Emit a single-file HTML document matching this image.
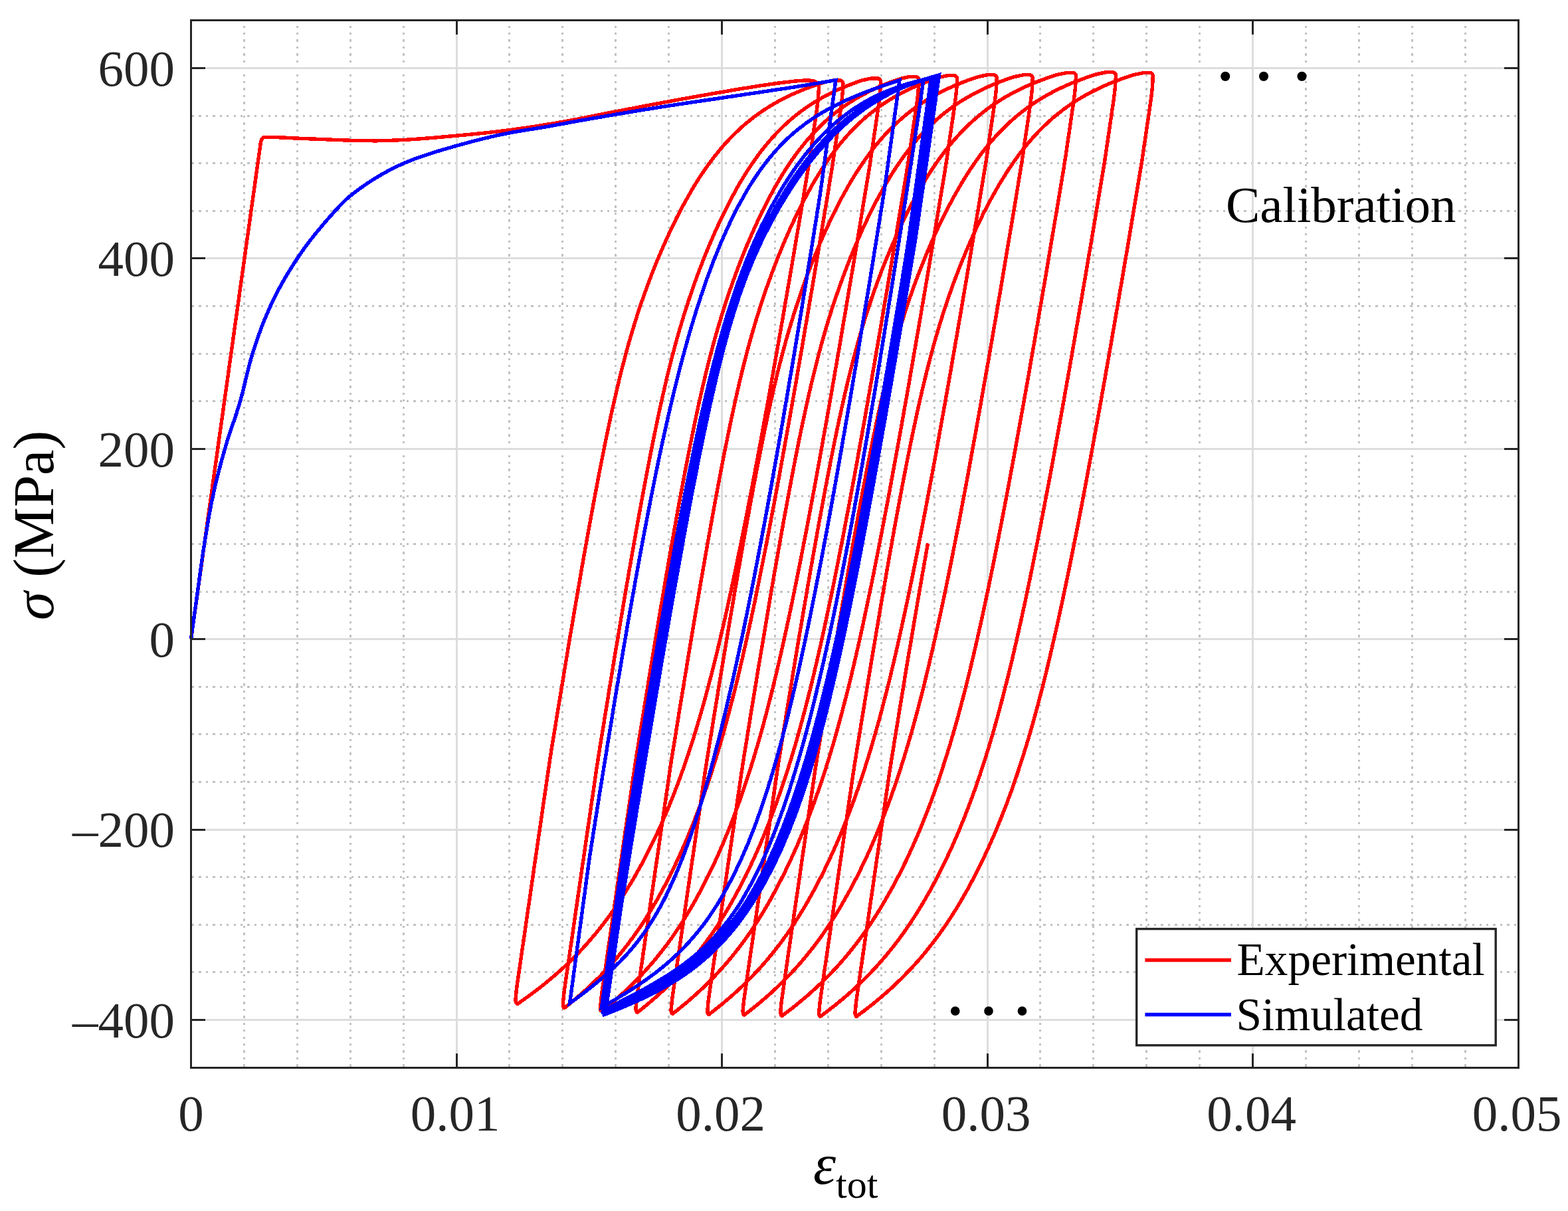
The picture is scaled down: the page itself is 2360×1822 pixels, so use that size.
<!DOCTYPE html>
<html lang="en">
<head>
<meta charset="utf-8">
<title>Calibration: Experimental vs Simulated stress-strain</title>
<style>
html,body{margin:0;padding:0;background:#fff;}
body{width:2360px;height:1822px;overflow:hidden;}
svg{display:block;}
text{font-family:"Liberation Serif","Times New Roman",serif;}
.tick{font-size:77px;fill:#262626;}
.lab{font-size:86.5px;fill:#000;}
.leg{font-size:69.3px;fill:#000;}
.ann{font-size:77px;fill:#000;}
</style>
</head>
<body>
<svg xmlns="http://www.w3.org/2000/svg" width="2360" height="1822" viewBox="0 0 2360 1822">
<rect x="0" y="0" width="2360" height="1822" fill="#ffffff"/>

<g stroke="#c2c2c2" stroke-width="3" stroke-dasharray="3.33 7.0867" fill="none" shape-rendering="crispEdges">
<line x1="367.4" y1="1604.5" x2="367.4" y2="32.0"/>
<line x1="447.3" y1="1604.5" x2="447.3" y2="32.0"/>
<line x1="527.2" y1="1604.5" x2="527.2" y2="32.0"/>
<line x1="607.1" y1="1604.5" x2="607.1" y2="32.0"/>
<line x1="766.9" y1="1604.5" x2="766.9" y2="32.0"/>
<line x1="846.8" y1="1604.5" x2="846.8" y2="32.0"/>
<line x1="926.7" y1="1604.5" x2="926.7" y2="32.0"/>
<line x1="1006.6" y1="1604.5" x2="1006.6" y2="32.0"/>
<line x1="1166.4" y1="1604.5" x2="1166.4" y2="32.0"/>
<line x1="1246.3" y1="1604.5" x2="1246.3" y2="32.0"/>
<line x1="1326.2" y1="1604.5" x2="1326.2" y2="32.0"/>
<line x1="1406.1" y1="1604.5" x2="1406.1" y2="32.0"/>
<line x1="1565.9" y1="1604.5" x2="1565.9" y2="32.0"/>
<line x1="1645.8" y1="1604.5" x2="1645.8" y2="32.0"/>
<line x1="1725.7" y1="1604.5" x2="1725.7" y2="32.0"/>
<line x1="1805.6" y1="1604.5" x2="1805.6" y2="32.0"/>
<line x1="1965.4" y1="1604.5" x2="1965.4" y2="32.0"/>
<line x1="2045.3" y1="1604.5" x2="2045.3" y2="32.0"/>
<line x1="2125.2" y1="1604.5" x2="2125.2" y2="32.0"/>
<line x1="2205.1" y1="1604.5" x2="2205.1" y2="32.0"/>
<line x1="289.0" y1="1462.9" x2="2283.5" y2="1462.9"/>
<line x1="289.0" y1="1391.3" x2="2283.5" y2="1391.3"/>
<line x1="289.0" y1="1319.7" x2="2283.5" y2="1319.7"/>
<line x1="289.0" y1="1176.5" x2="2283.5" y2="1176.5"/>
<line x1="289.0" y1="1104.9" x2="2283.5" y2="1104.9"/>
<line x1="289.0" y1="1033.3" x2="2283.5" y2="1033.3"/>
<line x1="289.0" y1="890.1" x2="2283.5" y2="890.1"/>
<line x1="289.0" y1="818.5" x2="2283.5" y2="818.5"/>
<line x1="289.0" y1="746.9" x2="2283.5" y2="746.9"/>
<line x1="289.0" y1="603.7" x2="2283.5" y2="603.7"/>
<line x1="289.0" y1="532.1" x2="2283.5" y2="532.1"/>
<line x1="289.0" y1="460.5" x2="2283.5" y2="460.5"/>
<line x1="289.0" y1="317.3" x2="2283.5" y2="317.3"/>
<line x1="289.0" y1="245.7" x2="2283.5" y2="245.7"/>
<line x1="289.0" y1="174.1" x2="2283.5" y2="174.1"/>
</g>
<g stroke="#dddddd" stroke-width="3" fill="none" shape-rendering="crispEdges">
<line x1="687.0" y1="1606.5" x2="687.0" y2="30.5"/>
<line x1="1086.5" y1="1606.5" x2="1086.5" y2="30.5"/>
<line x1="1486.0" y1="1606.5" x2="1486.0" y2="30.5"/>
<line x1="1885.5" y1="1606.5" x2="1885.5" y2="30.5"/>
<line x1="287.5" y1="1534.5" x2="2285.0" y2="1534.5"/>
<line x1="287.5" y1="1248.1" x2="2285.0" y2="1248.1"/>
<line x1="287.5" y1="961.7" x2="2285.0" y2="961.7"/>
<line x1="287.5" y1="675.3" x2="2285.0" y2="675.3"/>
<line x1="287.5" y1="388.9" x2="2285.0" y2="388.9"/>
<line x1="287.5" y1="102.5" x2="2285.0" y2="102.5"/>
</g>
<g shape-rendering="crispEdges">
<path d="M287.5,961.7 L392.3,215.0 L393.6,210.0 L394.4,208.8 L395.2,207.7 L396.1,207.0 L396.9,206.7 L397.7,206.6 L398.5,206.5 L399.3,206.4 L400.2,206.4 L401.0,206.3 L401.8,206.3 L402.6,206.3 L403.4,206.3 L404.3,206.3 L405.1,206.3 L405.9,206.3 L406.7,206.4 L407.5,206.4 L408.4,206.4 L409.2,206.4 L410.0,206.4 L416.6,206.7 L423.2,206.9 L429.8,207.2 L436.3,207.5 L442.9,207.9 L449.5,208.2 L456.1,208.5 L462.7,208.7 L469.2,209.0 L475.8,209.2 L482.4,209.5 L489.0,209.7 L495.6,210.0 L502.2,210.3 L508.8,210.6 L515.3,210.8 L521.9,211.1 L528.5,211.3 L535.1,211.4 L541.7,211.6 L548.2,211.7 L554.8,211.8 L561.4,211.8 L568.0,211.8 L574.6,211.6 L581.2,211.5 L587.8,211.3 L594.3,211.0 L600.9,210.8 L607.5,210.4 L614.1,210.1 L620.7,209.6 L627.2,209.2 L633.8,208.7 L640.4,208.2 L647.0,207.7 L653.6,207.2 L660.2,206.6 L666.8,206.0 L673.3,205.4 L679.9,204.8 L686.5,204.2 L693.1,203.6 L699.7,203.0 L706.2,202.4 L712.8,201.7 L719.4,201.1 L726.0,200.4 L732.6,199.7 L739.2,199.0 L745.8,198.2 L752.3,197.4 L758.9,196.6 L765.5,195.8 L772.1,194.9 L778.7,194.0 L785.2,193.1 L791.8,192.2 L798.4,191.2 L805.0,190.2 L811.6,189.1 L818.2,188.1 L824.8,187.0 L831.3,186.0 L837.9,184.9 L844.5,183.7 L851.1,182.6 L857.7,181.4 L864.2,180.1 L870.8,178.9 L877.4,177.6 L884.0,176.3 L890.6,174.9 L897.2,173.6 L903.8,172.3 L910.3,171.0 L916.9,169.7 L923.5,168.4 L930.1,167.2 L936.7,165.9 L943.2,164.7 L949.8,163.4 L956.4,162.1 L963.0,160.9 L969.6,159.6 L976.2,158.4 L982.8,157.1 L989.3,155.9 L995.9,154.7 L1002.5,153.5 L1009.1,152.2 L1015.7,151.0 L1022.2,149.8 L1028.8,148.6 L1035.4,147.5 L1042.0,146.3 L1048.6,145.1 L1055.2,143.9 L1061.8,142.8 L1068.3,141.6 L1074.9,140.5 L1081.5,139.3 L1088.1,138.2 L1094.7,137.1 L1101.2,135.9 L1107.8,134.8 L1114.4,133.7 L1121.0,132.7 L1127.6,131.6 L1134.2,130.6 L1140.8,129.5 L1147.3,128.5 L1153.9,127.6 L1160.5,126.6 L1167.1,125.7 L1173.7,124.8 L1180.2,124.0 L1186.8,123.2 L1193.4,122.4 L1200.0,121.8 L1200.8,121.7 L1201.7,121.6 L1202.5,121.6 L1203.3,121.5 L1204.2,121.5 L1205.0,121.4 L1205.9,121.3 L1206.7,121.3 L1207.5,121.2 L1208.4,121.2 L1209.2,121.1 L1210.0,121.1 L1210.9,121.0 L1211.7,121.0 L1212.5,120.9 L1213.4,120.9 L1214.2,120.9 L1215.0,120.9 L1215.9,120.9 L1216.7,120.9 L1217.6,121.0 L1218.4,121.0 L1219.2,121.1 L1220.1,121.2 L1220.9,121.3 L1221.7,121.4 L1222.6,121.5 L1223.4,121.7 L1224.2,121.9 L1225.1,122.2 L1225.9,122.6 L1226.7,123.0 L1227.6,123.4 L1228.4,123.9 L1229.3,124.5 L1230.1,125.3 L1230.9,126.3 L1231.8,127.8 L1232.6,130.0 L1232.3,134.1 L1232.1,138.3 L1231.8,142.4 L1231.5,146.6 L1231.1,150.7 L1230.7,154.8 L1230.1,159.0 L1229.6,163.1 L1229.0,167.3 L1228.4,171.4 L1227.8,175.5 L1227.2,179.7 L1226.6,183.8 L1226.0,188.0 L1225.4,192.1 L1224.8,196.3 L1224.2,200.4 L1223.6,204.5 L1223.0,208.7 L1222.4,212.8 L1221.8,217.0 L1221.2,221.1 L1220.6,225.2 L1220.0,229.4 L1219.3,233.5 L1218.7,237.7 L1218.1,241.8 L1217.5,245.9 L1216.9,250.1 L1216.3,254.2 L1215.6,258.4 L1214.9,262.5 L1214.2,266.6 L1213.5,270.8 L1212.8,274.9 L1212.1,279.1 L1211.4,283.2 L1210.7,287.4 L1210.1,291.5 L1209.4,295.6 L1205.8,316.6 L1202.3,337.6 L1198.7,358.6 L1195.1,379.6 L1191.6,400.5 L1188.0,421.5 L1184.3,442.5 L1180.7,463.5 L1177.1,484.5 L1173.4,505.4 L1169.7,526.4 L1166.0,547.4 L1162.2,568.4 L1158.5,589.4 L1154.7,610.3 L1150.8,631.3 L1147.0,652.3 L1143.1,673.3 L1139.2,694.3 L1135.2,715.2 L1131.2,736.2 L1127.1,757.2 L1123.0,778.2 L1118.9,799.2 L1114.6,820.1 L1110.3,841.1 L1106.0,862.1 L1101.5,883.1 L1096.9,904.1 L1092.3,925.1 L1087.5,946.0 L1082.6,967.0 L1077.5,988.0 L1072.3,1009.0 L1066.8,1030.0 L1061.2,1050.9 L1055.3,1071.9 L1049.1,1092.9 L1042.7,1113.9 L1035.9,1134.9 L1028.7,1155.8 L1021.1,1176.8 L1013.0,1197.8 L1004.5,1218.8 L995.4,1239.8 L985.7,1260.7 L975.4,1281.7 L964.4,1302.7 L952.5,1323.7 L939.7,1344.7 L937.0,1348.9 L934.3,1353.2 L931.5,1357.4 L928.6,1361.7 L925.7,1365.9 L922.7,1370.1 L919.7,1374.4 L916.6,1378.6 L913.5,1382.9 L910.3,1387.1 L907.0,1391.4 L903.7,1395.6 L900.3,1399.9 L896.9,1404.1 L893.3,1408.4 L889.7,1412.6 L886.0,1416.9 L882.3,1421.1 L878.4,1425.4 L874.5,1429.6 L870.5,1433.9 L866.3,1438.1 L862.1,1442.3 L857.8,1446.6 L853.4,1450.8 L848.9,1455.1 L844.2,1459.3 L839.5,1463.6 L834.6,1467.8 L829.6,1472.1 L824.5,1476.3 L819.3,1480.6 L814.0,1484.8 L808.5,1489.1 L802.9,1493.3 L797.1,1497.6 L791.2,1501.8 L785.2,1506.1 L779.1,1510.3 L778.5,1510.1 L777.9,1509.8 L777.4,1509.4 L777.0,1508.9 L776.6,1508.2 L776.4,1507.4 L776.2,1506.5 L776.0,1505.4 L776.0,1504.3 L776.0,1503.0 L776.1,1501.5 L776.3,1500.0 L776.7,1495.8 L777.1,1491.6 L777.6,1487.5 L778.1,1483.3 L778.7,1479.1 L779.3,1475.0 L779.9,1470.8 L780.5,1466.6 L781.1,1462.5 L781.7,1458.3 L782.3,1454.1 L782.9,1449.9 L783.5,1445.8 L784.1,1441.6 L784.7,1437.4 L785.3,1433.3 L785.9,1429.1 L786.5,1424.9 L787.2,1420.8 L787.8,1416.6 L788.4,1412.4 L789.0,1408.3 L789.6,1404.1 L790.2,1399.9 L790.8,1395.8 L791.4,1391.6 L792.0,1387.4 L792.6,1383.3 L793.2,1379.1 L793.8,1374.9 L794.4,1370.8 L795.0,1366.6 L795.7,1362.4 L796.3,1358.2 L796.9,1354.1 L797.5,1349.9 L798.1,1345.7 L798.7,1341.6 L801.8,1320.5 L804.8,1299.3 L807.9,1278.2 L811.0,1257.1 L814.1,1236.0 L817.1,1214.9 L820.2,1193.7 L823.3,1172.6 L826.4,1151.5 L829.6,1130.4 L833.1,1109.3 L836.5,1088.1 L840.0,1067.0 L843.4,1045.9 L846.9,1024.8 L850.4,1003.7 L853.9,982.6 L857.4,961.4 L861.0,940.3 L864.6,919.2 L868.2,898.1 L871.9,877.0 L875.5,855.8 L879.2,834.7 L883.0,813.6 L886.8,792.5 L890.7,771.4 L894.6,750.2 L898.6,729.1 L902.6,708.0 L906.8,686.9 L911.0,665.8 L915.4,644.7 L919.9,623.5 L924.7,602.4 L929.6,581.3 L934.7,560.2 L940.2,539.1 L945.9,517.9 L952.1,496.8 L958.6,475.7 L965.6,454.6 L973.1,433.5 L981.0,412.3 L989.5,391.2 L998.5,370.1 L1008.1,349.0 L1018.3,327.9 L1029.4,306.8 L1041.4,285.6 L1043.9,281.4 L1046.5,277.1 L1049.2,272.8 L1051.9,268.5 L1054.7,264.3 L1057.6,260.0 L1060.5,255.7 L1063.5,251.4 L1066.6,247.2 L1069.7,242.9 L1072.9,238.6 L1076.2,234.3 L1079.7,230.1 L1083.2,225.8 L1086.8,221.5 L1090.5,217.2 L1094.4,213.0 L1098.4,208.7 L1102.6,204.4 L1106.9,200.2 L1111.4,195.9 L1116.0,191.6 L1120.9,187.3 L1126.0,183.1 L1131.3,178.8 L1137.0,174.5 L1142.9,170.2 L1149.1,166.0 L1155.7,161.7 L1162.8,157.4 L1170.2,153.2 L1178.2,148.9 L1186.8,144.6 L1196.0,140.4 L1206.0,136.1 L1216.8,131.9 L1228.4,127.7 L1241.1,123.6 L1254.9,120.9 L1256.7,120.9 L1258.5,120.9 L1260.3,120.9 L1262.1,120.9 L1263.9,120.9 L1264.9,121.0 L1265.8,121.3 L1266.7,121.7 L1267.4,122.4 L1268.1,123.1 L1268.5,124.0 L1268.8,124.9 L1268.9,125.9 L1268.7,126.4 L1268.6,130.6 L1268.4,134.7 L1268.2,138.9 L1267.8,143.1 L1267.4,147.3 L1267.0,151.4 L1266.5,155.6 L1265.9,159.8 L1265.4,163.9 L1264.8,168.1 L1264.2,172.3 L1263.6,176.4 L1263.0,180.6 L1262.4,184.8 L1261.7,189.0 L1261.1,193.1 L1260.5,197.3 L1259.9,201.5 L1259.3,205.6 L1258.7,209.8 L1258.1,214.0 L1257.4,218.1 L1256.8,222.3 L1256.2,226.5 L1255.6,230.7 L1255.0,234.8 L1254.4,239.0 L1253.8,243.2 L1253.2,247.3 L1252.5,251.5 L1251.9,255.7 L1251.2,259.8 L1250.5,264.0 L1249.8,268.2 L1249.1,272.4 L1248.4,276.5 L1247.7,280.7 L1247.1,284.9 L1246.4,289.0 L1245.7,293.2 L1242.2,314.3 L1238.7,335.5 L1235.2,356.6 L1231.7,377.7 L1228.1,398.9 L1224.6,420.0 L1221.0,441.1 L1217.4,462.2 L1213.8,483.4 L1210.2,504.5 L1206.6,525.6 L1202.9,546.8 L1199.3,567.9 L1195.6,589.0 L1191.9,610.2 L1188.1,631.3 L1184.3,652.4 L1180.5,673.5 L1176.7,694.7 L1172.9,715.8 L1169.0,736.9 L1165.0,758.1 L1161.0,779.2 L1157.0,800.3 L1152.9,821.4 L1148.7,842.6 L1144.5,863.7 L1140.2,884.8 L1135.9,906.0 L1131.4,927.1 L1126.8,948.2 L1122.1,969.4 L1117.3,990.5 L1112.4,1011.6 L1107.3,1032.7 L1101.9,1053.9 L1096.4,1075.0 L1090.7,1096.1 L1084.7,1117.3 L1078.4,1138.4 L1071.7,1159.5 L1064.7,1180.7 L1057.4,1201.8 L1049.6,1222.9 L1041.3,1244.0 L1032.5,1265.2 L1023.2,1286.3 L1013.3,1307.4 L1002.7,1328.6 L991.2,1349.7 L988.8,1354.0 L986.3,1358.2 L983.8,1362.5 L981.2,1366.8 L978.7,1371.1 L976.0,1375.4 L973.3,1379.6 L970.6,1383.9 L967.8,1388.2 L965.0,1392.5 L962.1,1396.7 L959.1,1401.0 L956.1,1405.3 L953.1,1409.6 L949.9,1413.8 L946.7,1418.1 L943.5,1422.4 L940.1,1426.7 L936.7,1431.0 L933.3,1435.2 L929.7,1439.5 L926.1,1443.8 L922.4,1448.1 L918.5,1452.3 L914.7,1456.6 L910.7,1460.9 L906.6,1465.2 L902.4,1469.5 L898.1,1473.7 L893.8,1478.0 L889.3,1482.3 L884.7,1486.6 L880.0,1490.8 L875.2,1495.1 L870.3,1499.4 L865.3,1503.7 L860.1,1507.9 L854.9,1512.2 L849.5,1516.5 L849.0,1516.3 L848.6,1516.0 L848.2,1515.6 L847.9,1515.1 L847.7,1514.4 L847.5,1513.6 L847.4,1512.7 L847.3,1511.6 L847.3,1510.4 L847.4,1509.1 L847.5,1507.7 L847.7,1506.1 L848.1,1501.9 L848.5,1497.7 L849.0,1493.5 L849.5,1489.3 L850.1,1485.1 L850.7,1480.9 L851.3,1476.7 L851.9,1472.5 L852.5,1468.3 L853.1,1464.2 L853.7,1460.0 L854.4,1455.8 L855.0,1451.6 L855.6,1447.4 L856.2,1443.2 L856.8,1439.0 L857.4,1434.8 L858.0,1430.6 L858.6,1426.4 L859.2,1422.2 L859.9,1418.0 L860.5,1413.8 L861.1,1409.6 L861.7,1405.4 L862.3,1401.2 L862.9,1397.0 L863.5,1392.8 L864.1,1388.6 L864.7,1384.4 L865.4,1380.2 L866.0,1376.0 L866.6,1371.8 L867.2,1367.6 L867.8,1363.5 L868.4,1359.3 L869.0,1355.1 L869.6,1350.9 L870.2,1346.7 L873.3,1325.4 L876.4,1304.2 L879.5,1282.9 L882.6,1261.6 L885.7,1240.4 L888.8,1219.1 L891.9,1197.9 L895.0,1176.6 L898.1,1155.3 L901.4,1134.1 L904.8,1112.8 L908.3,1091.6 L911.7,1070.3 L915.2,1049.0 L918.6,1027.8 L922.1,1006.5 L925.6,985.3 L929.2,964.0 L932.7,942.8 L936.3,921.5 L939.9,900.2 L943.5,879.0 L947.2,857.7 L950.9,836.5 L954.6,815.2 L958.4,793.9 L962.2,772.7 L966.1,751.4 L970.1,730.2 L974.1,708.9 L978.2,687.7 L982.4,666.4 L986.8,645.1 L991.2,623.9 L995.9,602.6 L1000.7,581.4 L1005.7,560.1 L1011.1,538.8 L1016.7,517.6 L1022.7,496.3 L1029.1,475.1 L1035.9,453.8 L1043.1,432.5 L1050.8,411.3 L1058.9,390.0 L1067.6,368.8 L1076.8,347.5 L1086.7,326.3 L1097.3,305.0 L1108.8,283.7 L1111.2,279.4 L1113.7,275.1 L1116.3,270.8 L1118.9,266.5 L1121.6,262.2 L1124.3,257.9 L1127.1,253.6 L1130.0,249.3 L1132.9,245.0 L1135.9,240.7 L1139.0,236.4 L1142.1,232.1 L1145.4,227.8 L1148.7,223.5 L1152.2,219.2 L1155.8,214.9 L1159.4,210.6 L1163.3,206.3 L1167.2,202.0 L1171.3,197.7 L1175.6,193.4 L1180.0,189.1 L1184.6,184.8 L1189.5,180.5 L1194.6,176.2 L1199.9,171.9 L1205.5,167.6 L1211.4,163.3 L1217.7,159.0 L1224.3,154.7 L1231.4,150.4 L1239.0,146.1 L1247.1,141.8 L1255.9,137.5 L1265.3,133.2 L1275.4,129.0 L1286.5,124.7 L1298.5,120.6 L1311.5,117.9 L1313.3,117.9 L1315.1,117.9 L1316.9,117.9 L1318.7,117.9 L1320.5,117.9 L1321.5,118.0 L1322.4,118.3 L1323.3,118.7 L1324.0,119.4 L1324.7,120.1 L1325.1,121.0 L1325.4,121.9 L1325.5,122.9 L1325.3,123.4 L1325.2,127.6 L1325.0,131.8 L1324.8,136.0 L1324.4,140.2 L1324.0,144.4 L1323.6,148.6 L1323.1,152.8 L1322.5,157.0 L1321.9,161.1 L1321.3,165.3 L1320.7,169.5 L1320.1,173.7 L1319.5,177.9 L1318.9,182.1 L1318.3,186.3 L1317.7,190.5 L1317.1,194.7 L1316.4,198.9 L1315.8,203.1 L1315.2,207.3 L1314.6,211.5 L1314.0,215.7 L1313.4,219.9 L1312.7,224.1 L1312.1,228.3 L1311.5,232.5 L1310.9,236.6 L1310.3,240.8 L1309.7,245.0 L1309.0,249.2 L1308.4,253.4 L1307.7,257.6 L1307.0,261.8 L1306.3,266.0 L1305.6,270.2 L1304.9,274.4 L1304.2,278.6 L1303.5,282.8 L1302.8,287.0 L1302.1,291.2 L1298.6,312.4 L1295.1,333.7 L1291.6,354.9 L1288.0,376.2 L1284.5,397.4 L1280.9,418.7 L1277.3,439.9 L1273.7,461.2 L1270.1,482.4 L1266.5,503.7 L1262.9,524.9 L1259.2,546.2 L1255.5,567.4 L1251.8,588.7 L1248.1,609.9 L1244.3,631.2 L1240.5,652.4 L1236.7,673.7 L1232.9,694.9 L1229.0,716.2 L1225.1,737.4 L1221.1,758.7 L1217.1,779.9 L1213.1,801.2 L1208.9,822.4 L1204.8,843.7 L1200.5,865.0 L1196.2,886.2 L1191.9,907.5 L1187.4,928.7 L1182.8,950.0 L1178.1,971.2 L1173.3,992.5 L1168.3,1013.7 L1163.2,1035.0 L1157.8,1056.2 L1152.3,1077.5 L1146.6,1098.7 L1140.5,1120.0 L1134.2,1141.2 L1127.6,1162.5 L1120.6,1183.7 L1113.2,1205.0 L1105.4,1226.2 L1097.1,1247.5 L1088.4,1268.7 L1079.1,1290.0 L1069.1,1311.2 L1058.5,1332.5 L1047.0,1353.7 L1044.6,1358.0 L1042.1,1362.3 L1039.6,1366.6 L1037.1,1370.9 L1034.5,1375.2 L1031.9,1379.5 L1029.2,1383.8 L1026.4,1388.1 L1023.7,1392.4 L1020.8,1396.7 L1017.9,1401.0 L1015.0,1405.4 L1012.0,1409.7 L1008.9,1414.0 L1005.8,1418.3 L1002.6,1422.6 L999.3,1426.9 L996.0,1431.2 L992.6,1435.5 L989.1,1439.8 L985.6,1444.1 L982.0,1448.4 L978.2,1452.7 L974.4,1457.0 L970.6,1461.3 L966.6,1465.6 L962.5,1469.9 L958.3,1474.2 L954.1,1478.5 L949.7,1482.8 L945.2,1487.1 L940.7,1491.4 L936.0,1495.7 L931.2,1500.0 L926.3,1504.3 L921.2,1508.6 L916.1,1512.9 L910.9,1517.2 L905.5,1521.5 L905.1,1521.3 L904.7,1521.0 L904.4,1520.6 L904.1,1520.1 L903.9,1519.4 L903.7,1518.6 L903.6,1517.7 L903.6,1516.6 L903.6,1515.4 L903.7,1514.1 L903.8,1512.6 L904.0,1511.1 L904.4,1506.8 L904.8,1502.6 L905.3,1498.4 L905.9,1494.2 L906.4,1490.0 L907.0,1485.8 L907.6,1481.5 L908.3,1477.3 L908.9,1473.1 L909.5,1468.9 L910.1,1464.7 L910.7,1460.4 L911.3,1456.2 L911.9,1452.0 L912.5,1447.8 L913.2,1443.6 L913.8,1439.4 L914.4,1435.1 L915.0,1430.9 L915.6,1426.7 L916.2,1422.5 L916.8,1418.3 L917.5,1414.0 L918.1,1409.8 L918.7,1405.6 L919.3,1401.4 L919.9,1397.2 L920.5,1393.0 L921.1,1388.7 L921.8,1384.5 L922.4,1380.3 L923.0,1376.1 L923.6,1371.9 L924.2,1367.6 L924.8,1363.4 L925.4,1359.2 L926.1,1355.0 L926.7,1350.8 L929.8,1329.4 L932.9,1308.0 L936.0,1286.7 L939.1,1265.3 L942.2,1243.9 L945.4,1222.5 L948.5,1201.2 L951.6,1179.8 L954.7,1158.4 L958.0,1137.0 L961.4,1115.7 L964.9,1094.3 L968.4,1072.9 L971.8,1051.6 L975.3,1030.2 L978.8,1008.8 L982.4,987.4 L985.9,966.1 L989.5,944.7 L993.1,923.3 L996.7,901.9 L1000.3,880.6 L1004.0,859.2 L1007.7,837.8 L1011.5,816.5 L1015.3,795.1 L1019.1,773.7 L1023.0,752.3 L1027.0,731.0 L1031.0,709.6 L1035.2,688.2 L1039.4,666.8 L1043.8,645.5 L1048.2,624.1 L1052.9,602.7 L1057.7,581.4 L1062.8,560.0 L1068.1,538.6 L1073.8,517.2 L1079.8,495.9 L1086.2,474.5 L1093.0,453.1 L1100.3,431.7 L1108.0,410.4 L1116.1,389.0 L1124.8,367.6 L1134.1,346.3 L1143.9,324.9 L1154.6,303.5 L1166.1,282.1 L1168.5,277.8 L1171.1,273.5 L1173.6,269.2 L1176.2,264.8 L1178.9,260.5 L1181.6,256.2 L1184.4,251.9 L1187.3,247.5 L1190.2,243.2 L1193.2,238.9 L1196.3,234.6 L1199.5,230.2 L1202.7,225.9 L1206.1,221.6 L1209.6,217.3 L1213.1,212.9 L1216.8,208.6 L1220.6,204.3 L1224.6,200.0 L1228.7,195.6 L1233.0,191.3 L1237.4,187.0 L1242.0,182.7 L1246.9,178.3 L1252.0,174.0 L1257.3,169.7 L1262.9,165.4 L1268.8,161.0 L1275.1,156.7 L1281.8,152.4 L1288.9,148.1 L1296.5,143.8 L1304.6,139.4 L1313.3,135.1 L1322.7,130.8 L1332.9,126.5 L1344.0,122.3 L1356.0,118.2 L1369.0,115.4 L1370.8,115.4 L1372.6,115.4 L1374.4,115.4 L1376.2,115.4 L1378.0,115.4 L1379.0,115.5 L1379.9,115.8 L1380.8,116.2 L1381.5,116.9 L1382.2,117.6 L1382.6,118.5 L1382.9,119.4 L1383.0,120.4 L1382.8,120.9 L1382.7,125.1 L1382.5,129.3 L1382.3,133.5 L1381.9,137.7 L1381.5,141.9 L1381.1,146.1 L1380.5,150.3 L1380.0,154.6 L1379.4,158.8 L1378.8,163.0 L1378.2,167.2 L1377.6,171.4 L1377.0,175.6 L1376.4,179.8 L1375.8,184.0 L1375.1,188.2 L1374.5,192.4 L1373.9,196.6 L1373.3,200.8 L1372.7,205.0 L1372.0,209.2 L1371.4,213.5 L1370.8,217.7 L1370.2,221.9 L1369.6,226.1 L1369.0,230.3 L1368.3,234.5 L1367.7,238.7 L1367.1,242.9 L1366.5,247.1 L1365.8,251.3 L1365.1,255.5 L1364.4,259.7 L1363.7,263.9 L1363.0,268.1 L1362.3,272.3 L1361.6,276.6 L1360.9,280.8 L1360.3,285.0 L1359.6,289.2 L1356.0,310.5 L1352.5,331.8 L1349.0,353.1 L1345.4,374.4 L1341.8,395.8 L1338.3,417.1 L1334.7,438.4 L1331.0,459.7 L1327.4,481.0 L1323.8,502.3 L1320.1,523.6 L1316.4,545.0 L1312.7,566.3 L1309.0,587.6 L1305.2,608.9 L1301.5,630.2 L1297.7,651.5 L1293.8,672.8 L1290.0,694.2 L1286.1,715.5 L1282.1,736.8 L1278.2,758.1 L1274.1,779.4 L1270.1,800.7 L1265.9,822.0 L1261.7,843.4 L1257.5,864.7 L1253.2,886.0 L1248.7,907.3 L1244.2,928.6 L1239.6,949.9 L1234.9,971.3 L1230.0,992.6 L1225.0,1013.9 L1219.9,1035.2 L1214.5,1056.5 L1208.9,1077.8 L1203.1,1099.1 L1197.1,1120.5 L1190.7,1141.8 L1184.0,1163.1 L1176.9,1184.4 L1169.5,1205.7 L1161.6,1227.0 L1153.3,1248.3 L1144.4,1269.7 L1135.0,1291.0 L1125.0,1312.3 L1114.2,1333.6 L1102.7,1354.9 L1100.2,1359.2 L1097.7,1363.6 L1095.2,1367.9 L1092.6,1372.2 L1090.0,1376.5 L1087.3,1380.8 L1084.6,1385.1 L1081.8,1389.4 L1079.0,1393.8 L1076.2,1398.1 L1073.2,1402.4 L1070.3,1406.7 L1067.2,1411.0 L1064.1,1415.3 L1061.0,1419.6 L1057.7,1424.0 L1054.4,1428.3 L1051.1,1432.6 L1047.6,1436.9 L1044.1,1441.2 L1040.5,1445.5 L1036.9,1449.8 L1033.1,1454.2 L1029.3,1458.5 L1025.3,1462.8 L1021.3,1467.1 L1017.2,1471.4 L1013.0,1475.7 L1008.7,1480.1 L1004.2,1484.4 L999.7,1488.7 L995.1,1493.0 L990.3,1497.3 L985.5,1501.6 L980.5,1505.9 L975.4,1510.3 L970.2,1514.6 L964.9,1518.9 L959.5,1523.2 L959.0,1523.0 L958.5,1522.7 L958.1,1522.3 L957.8,1521.8 L957.5,1521.1 L957.3,1520.3 L957.1,1519.4 L957.1,1518.3 L957.0,1517.1 L957.1,1515.8 L957.2,1514.3 L957.4,1512.7 L957.8,1508.5 L958.2,1504.3 L958.7,1500.1 L959.3,1495.8 L959.9,1491.6 L960.5,1487.4 L961.1,1483.1 L961.7,1478.9 L962.3,1474.7 L962.9,1470.5 L963.5,1466.2 L964.1,1462.0 L964.7,1457.8 L965.4,1453.5 L966.0,1449.3 L966.6,1445.1 L967.2,1440.9 L967.8,1436.6 L968.4,1432.4 L969.1,1428.2 L969.7,1423.9 L970.3,1419.7 L970.9,1415.5 L971.5,1411.3 L972.1,1407.0 L972.7,1402.8 L973.4,1398.6 L974.0,1394.3 L974.6,1390.1 L975.2,1385.9 L975.8,1381.7 L976.4,1377.4 L977.1,1373.2 L977.7,1369.0 L978.3,1364.7 L978.9,1360.5 L979.5,1356.3 L980.1,1352.0 L983.3,1330.6 L986.4,1309.2 L989.5,1287.8 L992.6,1266.3 L995.7,1244.9 L998.9,1223.5 L1002.0,1202.1 L1005.1,1180.6 L1008.2,1159.2 L1011.5,1137.8 L1015.0,1116.4 L1018.5,1094.9 L1021.9,1073.5 L1025.4,1052.1 L1028.9,1030.7 L1032.5,1009.2 L1036.0,987.8 L1039.6,966.4 L1043.1,945.0 L1046.7,923.5 L1050.4,902.1 L1054.0,880.7 L1057.7,859.3 L1061.5,837.8 L1065.2,816.4 L1069.1,795.0 L1072.9,773.6 L1076.8,752.1 L1080.8,730.7 L1084.9,709.3 L1089.0,687.8 L1093.3,666.4 L1097.7,645.0 L1102.2,623.6 L1106.9,602.1 L1111.7,580.7 L1116.8,559.3 L1122.2,537.9 L1127.9,516.4 L1134.0,495.0 L1140.4,473.6 L1147.3,452.2 L1154.6,430.7 L1162.4,409.3 L1170.6,387.9 L1179.4,366.5 L1188.7,345.0 L1198.7,323.6 L1209.5,302.2 L1221.1,280.8 L1223.6,276.4 L1226.1,272.1 L1228.7,267.8 L1231.4,263.4 L1234.1,259.1 L1236.8,254.7 L1239.7,250.4 L1242.6,246.1 L1245.5,241.7 L1248.6,237.4 L1251.7,233.1 L1254.9,228.7 L1258.2,224.4 L1261.6,220.0 L1265.1,215.7 L1268.7,211.4 L1272.4,207.0 L1276.3,202.7 L1280.3,198.4 L1284.4,194.0 L1288.8,189.7 L1293.3,185.4 L1298.0,181.0 L1302.9,176.7 L1308.0,172.4 L1313.4,168.0 L1319.1,163.7 L1325.1,159.4 L1331.5,155.0 L1338.2,150.7 L1345.4,146.4 L1353.1,142.0 L1361.3,137.7 L1370.2,133.4 L1379.7,129.1 L1390.0,124.8 L1401.2,120.5 L1413.4,116.4 L1426.6,113.6 L1428.4,113.6 L1430.2,113.6 L1432.0,113.6 L1433.8,113.6 L1435.6,113.6 L1436.6,113.7 L1437.5,114.0 L1438.4,114.4 L1439.1,115.1 L1439.8,115.8 L1440.2,116.7 L1440.5,117.6 L1440.6,118.6 L1440.4,119.1 L1440.3,123.3 L1440.1,127.5 L1439.9,131.8 L1439.5,136.0 L1439.1,140.2 L1438.7,144.4 L1438.1,148.6 L1437.6,152.8 L1437.0,157.1 L1436.4,161.3 L1435.8,165.5 L1435.2,169.7 L1434.6,173.9 L1434.0,178.2 L1433.3,182.4 L1432.7,186.6 L1432.1,190.8 L1431.5,195.0 L1430.9,199.2 L1430.2,203.5 L1429.6,207.7 L1429.0,211.9 L1428.4,216.1 L1427.8,220.3 L1427.1,224.6 L1426.5,228.8 L1425.9,233.0 L1425.3,237.2 L1424.7,241.4 L1424.0,245.6 L1423.3,249.9 L1422.6,254.1 L1422.0,258.3 L1421.3,262.5 L1420.6,266.7 L1419.9,271.0 L1419.2,275.2 L1418.5,279.4 L1417.8,283.6 L1417.1,287.8 L1413.5,309.2 L1410.0,330.6 L1406.4,352.0 L1402.9,373.3 L1399.3,394.7 L1395.7,416.1 L1392.1,437.4 L1388.4,458.8 L1384.8,480.2 L1381.1,501.6 L1377.4,522.9 L1373.7,544.3 L1370.0,565.7 L1366.3,587.1 L1362.5,608.4 L1358.7,629.8 L1354.9,651.2 L1351.0,672.5 L1347.1,693.9 L1343.2,715.3 L1339.3,736.7 L1335.3,758.0 L1331.2,779.4 L1327.1,800.8 L1323.0,822.2 L1318.7,843.5 L1314.5,864.9 L1310.1,886.3 L1305.6,907.6 L1301.1,929.0 L1296.5,950.4 L1291.7,971.8 L1286.8,993.1 L1281.8,1014.5 L1276.5,1035.9 L1271.1,1057.2 L1265.5,1078.6 L1259.6,1100.0 L1253.5,1121.4 L1247.1,1142.7 L1240.3,1164.1 L1233.2,1185.5 L1225.6,1206.9 L1217.7,1228.2 L1209.2,1249.6 L1200.3,1271.0 L1190.7,1292.3 L1180.5,1313.7 L1169.6,1335.1 L1157.9,1356.5 L1155.4,1360.8 L1152.9,1365.1 L1150.3,1369.4 L1147.7,1373.8 L1145.1,1378.1 L1142.3,1382.4 L1139.6,1386.8 L1136.8,1391.1 L1133.9,1395.4 L1131.0,1399.7 L1128.1,1404.1 L1125.0,1408.4 L1122.0,1412.7 L1118.8,1417.0 L1115.6,1421.4 L1112.3,1425.7 L1109.0,1430.0 L1105.6,1434.3 L1102.1,1438.7 L1098.5,1443.0 L1094.9,1447.3 L1091.1,1451.7 L1087.3,1456.0 L1083.4,1460.3 L1079.4,1464.6 L1075.3,1469.0 L1071.1,1473.3 L1066.8,1477.6 L1062.5,1481.9 L1058.0,1486.3 L1053.4,1490.6 L1048.7,1494.9 L1043.8,1499.2 L1038.9,1503.6 L1033.9,1507.9 L1028.7,1512.2 L1023.4,1516.5 L1018.0,1520.9 L1012.5,1525.2 L1012.0,1525.0 L1011.5,1524.7 L1011.1,1524.3 L1010.8,1523.8 L1010.6,1523.1 L1010.4,1522.3 L1010.2,1521.3 L1010.1,1520.3 L1010.1,1519.1 L1010.2,1517.8 L1010.3,1516.3 L1010.5,1514.7 L1010.9,1510.5 L1011.3,1506.3 L1011.8,1502.0 L1012.4,1497.8 L1013.0,1493.5 L1013.6,1489.3 L1014.2,1485.1 L1014.8,1480.8 L1015.4,1476.6 L1016.0,1472.3 L1016.6,1468.1 L1017.2,1463.9 L1017.9,1459.6 L1018.5,1455.4 L1019.1,1451.2 L1019.7,1446.9 L1020.3,1442.7 L1020.9,1438.4 L1021.6,1434.2 L1022.2,1430.0 L1022.8,1425.7 L1023.4,1421.5 L1024.0,1417.3 L1024.6,1413.0 L1025.3,1408.8 L1025.9,1404.5 L1026.5,1400.3 L1027.1,1396.1 L1027.7,1391.8 L1028.4,1387.6 L1029.0,1383.4 L1029.6,1379.1 L1030.2,1374.9 L1030.8,1370.6 L1031.4,1366.4 L1032.1,1362.2 L1032.7,1357.9 L1033.3,1353.7 L1036.4,1332.2 L1039.5,1310.7 L1042.7,1289.3 L1045.8,1267.8 L1048.9,1246.3 L1052.1,1224.9 L1055.2,1203.4 L1058.3,1181.9 L1061.4,1160.4 L1064.8,1139.0 L1068.2,1117.5 L1071.7,1096.0 L1075.2,1074.6 L1078.7,1053.1 L1082.2,1031.6 L1085.8,1010.1 L1089.3,988.7 L1092.9,967.2 L1096.5,945.7 L1100.1,924.3 L1103.8,902.8 L1107.5,881.3 L1111.2,859.8 L1114.9,838.4 L1118.7,816.9 L1122.6,795.4 L1126.5,774.0 L1130.4,752.5 L1134.4,731.0 L1138.5,709.5 L1142.7,688.1 L1147.0,666.6 L1151.4,645.1 L1155.9,623.7 L1160.7,602.2 L1165.6,580.7 L1170.7,559.2 L1176.2,537.8 L1181.9,516.3 L1188.1,494.8 L1194.6,473.4 L1201.6,451.9 L1209.0,430.4 L1216.9,408.9 L1225.3,387.5 L1234.2,366.0 L1243.7,344.5 L1253.8,323.1 L1264.7,301.6 L1276.6,280.1 L1279.1,275.8 L1281.7,271.4 L1284.4,267.1 L1287.0,262.7 L1289.8,258.4 L1292.6,254.0 L1295.5,249.7 L1298.4,245.4 L1301.5,241.0 L1304.6,236.7 L1307.7,232.3 L1311.0,228.0 L1314.4,223.6 L1317.8,219.3 L1321.4,214.9 L1325.1,210.6 L1328.9,206.2 L1332.8,201.9 L1336.9,197.6 L1341.2,193.2 L1345.6,188.9 L1350.2,184.5 L1354.9,180.2 L1360.0,175.8 L1365.2,171.5 L1370.7,167.1 L1376.5,162.8 L1382.7,158.5 L1389.2,154.1 L1396.1,149.8 L1403.4,145.4 L1411.2,141.1 L1419.7,136.8 L1428.7,132.4 L1438.5,128.1 L1449.0,123.8 L1460.5,119.5 L1472.9,115.4 L1486.4,112.6 L1488.2,112.6 L1490.0,112.6 L1491.8,112.6 L1493.6,112.6 L1495.4,112.6 L1496.4,112.7 L1497.3,113.0 L1498.2,113.4 L1498.9,114.1 L1499.6,114.8 L1500.0,115.7 L1500.3,116.6 L1500.4,117.6 L1500.2,118.1 L1500.1,122.3 L1499.9,126.5 L1499.7,130.8 L1499.3,135.0 L1498.9,139.2 L1498.5,143.4 L1497.9,147.7 L1497.4,151.9 L1496.8,156.1 L1496.2,160.3 L1495.6,164.6 L1495.0,168.8 L1494.4,173.0 L1493.7,177.2 L1493.1,181.5 L1492.5,185.7 L1491.9,189.9 L1491.3,194.1 L1490.6,198.4 L1490.0,202.6 L1489.4,206.8 L1488.8,211.0 L1488.2,215.3 L1487.5,219.5 L1486.9,223.7 L1486.3,227.9 L1485.7,232.2 L1485.0,236.4 L1484.4,240.6 L1483.8,244.8 L1483.1,249.1 L1482.4,253.3 L1481.7,257.5 L1481.0,261.7 L1480.3,266.0 L1479.6,270.2 L1478.9,274.4 L1478.2,278.6 L1477.5,282.9 L1476.8,287.1 L1473.3,308.5 L1469.7,329.9 L1466.1,351.3 L1462.5,372.7 L1458.9,394.1 L1455.3,415.5 L1451.7,436.9 L1448.1,458.3 L1444.4,479.8 L1440.7,501.2 L1437.0,522.6 L1433.3,544.0 L1429.6,565.4 L1425.8,586.8 L1422.0,608.2 L1418.2,629.6 L1414.3,651.0 L1410.5,672.4 L1406.6,693.8 L1402.6,715.2 L1398.6,736.6 L1394.6,758.0 L1390.5,779.4 L1386.4,800.8 L1382.2,822.3 L1378.0,843.7 L1373.7,865.1 L1369.3,886.5 L1364.8,907.9 L1360.2,929.3 L1355.5,950.7 L1350.7,972.1 L1345.8,993.5 L1340.7,1014.9 L1335.4,1036.3 L1329.9,1057.7 L1324.3,1079.1 L1318.3,1100.5 L1312.1,1121.9 L1305.6,1143.3 L1298.8,1164.7 L1291.5,1186.2 L1283.9,1207.6 L1275.8,1229.0 L1267.2,1250.4 L1258.1,1271.8 L1248.4,1293.2 L1238.1,1314.6 L1227.0,1336.0 L1215.1,1357.4 L1212.6,1361.7 L1210.0,1366.1 L1207.4,1370.4 L1204.7,1374.7 L1202.0,1379.1 L1199.3,1383.4 L1196.5,1387.7 L1193.6,1392.1 L1190.7,1396.4 L1187.7,1400.7 L1184.7,1405.1 L1181.6,1409.4 L1178.5,1413.7 L1175.3,1418.1 L1172.0,1422.4 L1168.7,1426.7 L1165.3,1431.1 L1161.8,1435.4 L1158.2,1439.7 L1154.6,1444.1 L1150.9,1448.4 L1147.1,1452.7 L1143.2,1457.1 L1139.2,1461.4 L1135.1,1465.7 L1131.0,1470.1 L1126.7,1474.4 L1122.3,1478.7 L1117.9,1483.1 L1113.3,1487.4 L1108.6,1491.7 L1103.8,1496.1 L1098.9,1500.4 L1093.8,1504.7 L1088.7,1509.1 L1083.4,1513.4 L1078.0,1517.7 L1072.5,1522.1 L1066.9,1526.4 L1066.4,1526.2 L1066.0,1525.9 L1065.7,1525.5 L1065.4,1525.0 L1065.1,1524.3 L1065.0,1523.5 L1064.9,1522.5 L1064.8,1521.5 L1064.8,1520.3 L1064.9,1519.0 L1065.0,1517.5 L1065.2,1515.9 L1065.6,1511.7 L1066.0,1507.4 L1066.5,1503.2 L1067.1,1499.0 L1067.7,1494.7 L1068.3,1490.5 L1068.9,1486.2 L1069.5,1482.0 L1070.1,1477.7 L1070.7,1473.5 L1071.3,1469.3 L1071.9,1465.0 L1072.6,1460.8 L1073.2,1456.5 L1073.8,1452.3 L1074.4,1448.1 L1075.0,1443.8 L1075.7,1439.6 L1076.3,1435.3 L1076.9,1431.1 L1077.5,1426.9 L1078.1,1422.6 L1078.7,1418.4 L1079.4,1414.1 L1080.0,1409.9 L1080.6,1405.7 L1081.2,1401.4 L1081.8,1397.2 L1082.5,1392.9 L1083.1,1388.7 L1083.7,1384.4 L1084.3,1380.2 L1084.9,1376.0 L1085.5,1371.7 L1086.2,1367.5 L1086.8,1363.2 L1087.4,1359.0 L1088.0,1354.8 L1091.1,1333.3 L1094.3,1311.8 L1097.4,1290.3 L1100.5,1268.8 L1103.7,1247.3 L1106.8,1225.8 L1109.9,1204.3 L1113.1,1182.9 L1116.2,1161.4 L1119.5,1139.9 L1123.0,1118.4 L1126.5,1096.9 L1129.9,1075.4 L1133.5,1053.9 L1137.0,1032.4 L1140.5,1010.9 L1144.1,989.5 L1147.7,968.0 L1151.3,946.5 L1154.9,925.0 L1158.5,903.5 L1162.2,882.0 L1165.9,860.5 L1169.7,839.0 L1173.5,817.6 L1177.3,796.1 L1181.2,774.6 L1185.2,753.1 L1189.2,731.6 L1193.3,710.1 L1197.4,688.6 L1201.7,667.1 L1206.1,645.6 L1210.7,624.2 L1215.4,602.7 L1220.3,581.2 L1225.5,559.7 L1230.9,538.2 L1236.7,516.7 L1242.8,495.2 L1249.3,473.7 L1256.3,452.3 L1263.7,430.8 L1271.6,409.3 L1279.9,387.8 L1288.8,366.3 L1298.3,344.8 L1308.4,323.3 L1319.3,301.8 L1331.2,280.4 L1333.7,276.0 L1336.3,271.7 L1338.9,267.3 L1341.6,263.0 L1344.3,258.6 L1347.1,254.3 L1350.0,249.9 L1353.0,245.6 L1356.0,241.2 L1359.1,236.9 L1362.2,232.5 L1365.5,228.2 L1368.8,223.8 L1372.3,219.5 L1375.9,215.1 L1379.5,210.8 L1383.3,206.4 L1387.3,202.1 L1391.3,197.7 L1395.6,193.4 L1400.0,189.0 L1404.5,184.7 L1409.3,180.3 L1414.3,176.0 L1419.6,171.6 L1425.1,167.3 L1430.9,162.9 L1437.0,158.6 L1443.4,154.2 L1450.3,149.9 L1457.6,145.6 L1465.5,141.2 L1473.9,136.9 L1482.9,132.5 L1492.6,128.2 L1503.1,123.9 L1514.5,119.6 L1526.9,115.5 L1540.4,112.7 L1542.2,112.7 L1544.0,112.7 L1545.8,112.7 L1547.6,112.7 L1549.4,112.7 L1550.4,112.8 L1551.3,113.1 L1552.2,113.5 L1552.9,114.2 L1553.6,114.9 L1554.0,115.8 L1554.3,116.7 L1554.4,117.7 L1554.2,118.2 L1554.1,122.4 L1553.9,126.7 L1553.7,130.9 L1553.3,135.1 L1552.9,139.3 L1552.4,143.6 L1551.9,147.8 L1551.4,152.0 L1550.8,156.2 L1550.2,160.5 L1549.6,164.7 L1549.0,168.9 L1548.4,173.1 L1547.7,177.4 L1547.1,181.6 L1546.5,185.8 L1545.9,190.1 L1545.3,194.3 L1544.6,198.5 L1544.0,202.7 L1543.4,207.0 L1542.8,211.2 L1542.1,215.4 L1541.5,219.6 L1540.9,223.9 L1540.3,228.1 L1539.7,232.3 L1539.0,236.5 L1538.4,240.8 L1537.8,245.0 L1537.1,249.2 L1536.4,253.5 L1535.7,257.7 L1535.0,261.9 L1534.3,266.1 L1533.6,270.4 L1532.9,274.6 L1532.2,278.8 L1531.5,283.0 L1530.8,287.3 L1527.3,308.7 L1523.7,330.1 L1520.1,351.5 L1516.5,372.9 L1512.9,394.3 L1509.3,415.8 L1505.7,437.2 L1502.0,458.6 L1498.4,480.0 L1494.7,501.4 L1491.0,522.8 L1487.3,544.3 L1483.5,565.7 L1479.7,587.1 L1476.0,608.5 L1472.1,629.9 L1468.3,651.3 L1464.4,672.7 L1460.5,694.2 L1456.6,715.6 L1452.6,737.0 L1448.5,758.4 L1444.5,779.8 L1440.3,801.2 L1436.1,822.6 L1431.9,844.1 L1427.6,865.5 L1423.2,886.9 L1418.7,908.3 L1414.1,929.7 L1409.4,951.1 L1404.6,972.6 L1399.6,994.0 L1394.5,1015.4 L1389.3,1036.8 L1383.8,1058.2 L1378.1,1079.6 L1372.2,1101.0 L1365.9,1122.5 L1359.4,1143.9 L1352.6,1165.3 L1345.3,1186.7 L1337.7,1208.1 L1329.6,1229.5 L1321.0,1251.0 L1311.9,1272.4 L1302.2,1293.8 L1291.8,1315.2 L1280.7,1336.6 L1268.7,1358.0 L1266.2,1362.4 L1263.6,1366.7 L1261.0,1371.0 L1258.3,1375.4 L1255.6,1379.7 L1252.9,1384.0 L1250.1,1388.4 L1247.2,1392.7 L1244.3,1397.0 L1241.3,1401.4 L1238.3,1405.7 L1235.2,1410.1 L1232.1,1414.4 L1228.8,1418.7 L1225.6,1423.1 L1222.2,1427.4 L1218.8,1431.7 L1215.3,1436.1 L1211.7,1440.4 L1208.1,1444.7 L1204.4,1449.1 L1200.6,1453.4 L1196.7,1457.7 L1192.7,1462.1 L1188.6,1466.4 L1184.4,1470.7 L1180.1,1475.1 L1175.8,1479.4 L1171.3,1483.7 L1166.7,1488.1 L1162.0,1492.4 L1157.2,1496.8 L1152.3,1501.1 L1147.2,1505.4 L1142.0,1509.8 L1136.8,1514.1 L1131.4,1518.4 L1125.8,1522.8 L1120.2,1527.1 L1119.7,1526.9 L1119.3,1526.6 L1119.0,1526.2 L1118.7,1525.7 L1118.4,1525.0 L1118.3,1524.2 L1118.2,1523.2 L1118.1,1522.2 L1118.1,1521.0 L1118.2,1519.6 L1118.3,1518.2 L1118.5,1516.6 L1118.9,1512.3 L1119.3,1508.1 L1119.8,1503.8 L1120.4,1499.6 L1121.0,1495.3 L1121.6,1491.1 L1122.2,1486.8 L1122.8,1482.6 L1123.4,1478.3 L1124.0,1474.1 L1124.7,1469.8 L1125.3,1465.6 L1125.9,1461.3 L1126.5,1457.1 L1127.1,1452.8 L1127.8,1448.6 L1128.4,1444.3 L1129.0,1440.0 L1129.6,1435.8 L1130.2,1431.5 L1130.8,1427.3 L1131.5,1423.0 L1132.1,1418.8 L1132.7,1414.5 L1133.3,1410.3 L1133.9,1406.0 L1134.6,1401.8 L1135.2,1397.5 L1135.8,1393.3 L1136.4,1389.0 L1137.0,1384.8 L1137.7,1380.5 L1138.3,1376.3 L1138.9,1372.0 L1139.5,1367.7 L1140.1,1363.5 L1140.8,1359.2 L1141.4,1355.0 L1144.5,1333.4 L1147.7,1311.9 L1150.8,1290.3 L1153.9,1268.8 L1157.1,1247.3 L1160.2,1225.7 L1163.4,1204.2 L1166.5,1182.6 L1169.6,1161.1 L1173.0,1139.5 L1176.5,1118.0 L1180.0,1096.4 L1183.5,1074.9 L1187.0,1053.3 L1190.6,1031.8 L1194.1,1010.2 L1197.7,988.7 L1201.3,967.1 L1204.9,945.6 L1208.6,924.0 L1212.3,902.5 L1216.0,880.9 L1219.7,859.4 L1223.5,837.9 L1227.4,816.3 L1231.2,794.8 L1235.2,773.2 L1239.2,751.7 L1243.2,730.1 L1247.4,708.6 L1251.6,687.0 L1255.9,665.5 L1260.4,643.9 L1265.0,622.4 L1269.8,600.8 L1274.8,579.3 L1280.1,557.7 L1285.6,536.2 L1291.5,514.6 L1297.7,493.1 L1304.4,471.5 L1311.5,450.0 L1319.1,428.5 L1327.2,406.9 L1335.8,385.4 L1345.0,363.8 L1354.7,342.3 L1365.1,320.7 L1376.3,299.2 L1388.5,277.6 L1391.2,273.3 L1393.8,268.9 L1396.5,264.5 L1399.3,260.2 L1402.1,255.8 L1405.0,251.5 L1408.0,247.1 L1411.0,242.7 L1414.2,238.4 L1417.4,234.0 L1420.6,229.6 L1424.0,225.3 L1427.5,220.9 L1431.1,216.6 L1434.7,212.2 L1438.5,207.8 L1442.5,203.5 L1446.5,199.1 L1450.8,194.8 L1455.1,190.4 L1459.7,186.0 L1464.4,181.7 L1469.4,177.3 L1474.6,173.0 L1480.0,168.6 L1485.7,164.2 L1491.7,159.9 L1498.1,155.5 L1504.8,151.2 L1511.9,146.8 L1519.5,142.5 L1527.6,138.1 L1536.3,133.7 L1545.7,129.4 L1555.8,125.1 L1566.8,120.7 L1578.6,116.5 L1591.5,112.3 L1605.5,109.5 L1607.3,109.5 L1609.1,109.5 L1610.9,109.5 L1612.7,109.5 L1614.5,109.5 L1615.5,109.6 L1616.4,109.9 L1617.3,110.3 L1618.0,111.0 L1618.7,111.7 L1619.1,112.6 L1619.4,113.5 L1619.5,114.5 L1619.3,115.0 L1619.2,119.2 L1619.0,123.5 L1618.8,127.7 L1618.4,132.0 L1618.0,136.2 L1617.5,140.4 L1617.0,144.7 L1616.5,148.9 L1615.9,153.2 L1615.3,157.4 L1614.7,161.6 L1614.0,165.9 L1613.4,170.1 L1612.8,174.4 L1612.2,178.6 L1611.6,182.8 L1610.9,187.1 L1610.3,191.3 L1609.7,195.6 L1609.1,199.8 L1608.4,204.0 L1607.8,208.3 L1607.2,212.5 L1606.6,216.8 L1606.0,221.0 L1605.3,225.2 L1604.7,229.5 L1604.1,233.7 L1603.5,238.0 L1602.8,242.2 L1602.1,246.4 L1601.4,250.7 L1600.7,254.9 L1600.0,259.2 L1599.3,263.4 L1598.6,267.6 L1597.9,271.9 L1597.2,276.1 L1596.5,280.4 L1595.8,284.6 L1592.2,306.1 L1588.6,327.6 L1585.0,349.0 L1581.4,370.5 L1577.8,392.0 L1574.2,413.5 L1570.5,435.0 L1566.8,456.5 L1563.1,477.9 L1559.4,499.4 L1555.7,520.9 L1551.9,542.4 L1548.2,563.9 L1544.4,585.3 L1540.6,606.8 L1536.7,628.3 L1532.8,649.8 L1528.9,671.3 L1525.0,692.8 L1521.0,714.2 L1517.0,735.7 L1512.9,757.2 L1508.8,778.7 L1504.6,800.2 L1500.4,821.6 L1496.1,843.1 L1491.7,864.6 L1487.3,886.1 L1482.7,907.6 L1478.1,929.1 L1473.3,950.5 L1468.5,972.0 L1463.4,993.5 L1458.3,1015.0 L1452.9,1036.5 L1447.3,1058.0 L1441.6,1079.4 L1435.5,1100.9 L1429.2,1122.4 L1422.5,1143.9 L1415.5,1165.4 L1408.2,1186.8 L1400.4,1208.3 L1392.1,1229.8 L1383.3,1251.3 L1374.0,1272.8 L1364.1,1294.3 L1353.5,1315.7 L1342.1,1337.2 L1329.8,1358.7 L1327.2,1363.1 L1324.6,1367.4 L1321.9,1371.7 L1319.2,1376.1 L1316.4,1380.4 L1313.6,1384.8 L1310.7,1389.1 L1307.7,1393.5 L1304.8,1397.8 L1301.7,1402.2 L1298.6,1406.5 L1295.4,1410.9 L1292.2,1415.2 L1288.9,1419.6 L1285.5,1423.9 L1282.1,1428.3 L1278.6,1432.6 L1275.0,1437.0 L1271.4,1441.3 L1267.6,1445.7 L1263.8,1450.0 L1259.9,1454.4 L1255.9,1458.7 L1251.8,1463.1 L1247.6,1467.4 L1243.3,1471.8 L1238.9,1476.1 L1234.4,1480.5 L1229.8,1484.8 L1225.0,1489.2 L1220.2,1493.5 L1215.3,1497.9 L1210.2,1502.2 L1205.0,1506.6 L1199.7,1510.9 L1194.3,1515.3 L1188.7,1519.6 L1183.0,1524.0 L1177.2,1528.3 L1176.7,1528.1 L1176.2,1527.8 L1175.8,1527.4 L1175.5,1526.9 L1175.3,1526.2 L1175.1,1525.4 L1174.9,1524.4 L1174.9,1523.4 L1174.8,1522.2 L1174.9,1520.8 L1175.0,1519.4 L1175.2,1517.8 L1175.6,1513.5 L1176.0,1509.3 L1176.5,1505.0 L1177.1,1500.7 L1177.7,1496.5 L1178.3,1492.2 L1178.9,1488.0 L1179.5,1483.7 L1180.1,1479.5 L1180.7,1475.2 L1181.4,1470.9 L1182.0,1466.7 L1182.6,1462.4 L1183.2,1458.2 L1183.8,1453.9 L1184.5,1449.6 L1185.1,1445.4 L1185.7,1441.1 L1186.3,1436.9 L1186.9,1432.6 L1187.6,1428.3 L1188.2,1424.1 L1188.8,1419.8 L1189.4,1415.6 L1190.1,1411.3 L1190.7,1407.0 L1191.3,1402.8 L1191.9,1398.5 L1192.5,1394.3 L1193.2,1390.0 L1193.8,1385.8 L1194.4,1381.5 L1195.0,1377.2 L1195.6,1373.0 L1196.3,1368.7 L1196.9,1364.5 L1197.5,1360.2 L1198.1,1355.9 L1201.3,1334.4 L1204.4,1312.8 L1207.5,1291.2 L1210.7,1269.6 L1213.8,1248.0 L1217.0,1226.5 L1220.1,1204.9 L1223.3,1183.3 L1226.4,1161.7 L1229.8,1140.1 L1233.3,1118.6 L1236.8,1097.0 L1240.3,1075.4 L1243.8,1053.8 L1247.4,1032.2 L1251.0,1010.7 L1254.6,989.1 L1258.2,967.5 L1261.8,945.9 L1265.5,924.3 L1269.2,902.8 L1272.9,881.2 L1276.7,859.6 L1280.5,838.0 L1284.3,816.5 L1288.2,794.9 L1292.1,773.3 L1296.1,751.7 L1300.2,730.1 L1304.4,708.6 L1308.6,687.0 L1313.0,665.4 L1317.5,643.8 L1322.1,622.2 L1326.9,600.7 L1331.9,579.1 L1337.2,557.5 L1342.8,535.9 L1348.7,514.3 L1355.0,492.8 L1361.7,471.2 L1368.9,449.6 L1376.5,428.0 L1384.7,406.4 L1393.3,384.9 L1402.5,363.3 L1412.3,341.7 L1422.9,320.1 L1434.2,298.6 L1446.5,277.0 L1449.1,272.6 L1451.8,268.2 L1454.5,263.9 L1457.3,259.5 L1460.2,255.1 L1463.1,250.8 L1466.1,246.4 L1469.2,242.0 L1472.3,237.7 L1475.5,233.3 L1478.8,228.9 L1482.2,224.6 L1485.7,220.2 L1489.3,215.8 L1493.1,211.5 L1496.9,207.1 L1500.9,202.7 L1505.0,198.4 L1509.2,194.0 L1513.6,189.6 L1518.2,185.3 L1523.0,180.9 L1528.0,176.5 L1533.3,172.2 L1538.7,167.8 L1544.5,163.4 L1550.6,159.1 L1557.0,154.7 L1563.8,150.3 L1571.0,146.0 L1578.6,141.6 L1586.9,137.2 L1595.6,132.9 L1605.1,128.5 L1615.3,124.2 L1626.4,119.9 L1638.3,115.6 L1651.4,111.4 L1665.5,108.6 L1667.3,108.6 L1669.1,108.6 L1670.9,108.6 L1672.7,108.6 L1674.5,108.6 L1675.5,108.7 L1676.4,109.0 L1677.3,109.4 L1678.0,110.1 L1678.7,110.8 L1679.1,111.7 L1679.4,112.6 L1679.5,113.6 L1679.3,114.1 L1679.2,118.3 L1679.0,122.6 L1678.7,126.8 L1678.4,131.1 L1678.0,135.3 L1677.5,139.6 L1677.0,143.8 L1676.4,148.1 L1675.9,152.3 L1675.3,156.6 L1674.7,160.8 L1674.0,165.0 L1673.4,169.3 L1672.8,173.5 L1672.2,177.8 L1671.5,182.0 L1670.9,186.3 L1670.3,190.5 L1669.7,194.8 L1669.1,199.0 L1668.4,203.3 L1667.8,207.5 L1667.2,211.7 L1666.6,216.0 L1665.9,220.2 L1665.3,224.5 L1664.7,228.7 L1664.1,233.0 L1663.4,237.2 L1662.8,241.5 L1662.1,245.7 L1661.4,250.0 L1660.7,254.2 L1660.0,258.5 L1659.3,262.7 L1658.6,266.9 L1657.9,271.2 L1657.2,275.4 L1656.5,279.7 L1655.8,283.9 L1652.2,305.4 L1648.6,326.9 L1645.0,348.5 L1641.4,370.0 L1637.7,391.5 L1634.1,413.0 L1630.4,434.5 L1626.7,456.0 L1623.0,477.5 L1619.3,499.0 L1615.6,520.5 L1611.8,542.1 L1608.0,563.6 L1604.2,585.1 L1600.4,606.6 L1596.5,628.1 L1592.6,649.6 L1588.7,671.1 L1584.8,692.6 L1580.8,714.1 L1576.7,735.7 L1572.6,757.2 L1568.5,778.7 L1564.3,800.2 L1560.1,821.7 L1555.8,843.2 L1551.4,864.7 L1546.9,886.2 L1542.4,907.7 L1537.7,929.3 L1532.9,950.8 L1528.0,972.3 L1523.0,993.8 L1517.8,1015.3 L1512.4,1036.8 L1506.8,1058.3 L1501.0,1079.8 L1495.0,1101.3 L1488.6,1122.9 L1481.9,1144.4 L1474.9,1165.9 L1467.5,1187.4 L1459.6,1208.9 L1451.3,1230.4 L1442.5,1251.9 L1433.1,1273.4 L1423.1,1294.9 L1412.4,1316.5 L1401.0,1338.0 L1388.6,1359.5 L1386.0,1363.8 L1383.3,1368.2 L1380.6,1372.5 L1377.9,1376.9 L1375.1,1381.2 L1372.2,1385.6 L1369.3,1390.0 L1366.4,1394.3 L1363.4,1398.7 L1360.3,1403.0 L1357.2,1407.4 L1354.0,1411.7 L1350.7,1416.1 L1347.4,1420.4 L1344.0,1424.8 L1340.5,1429.1 L1337.0,1433.5 L1333.4,1437.9 L1329.7,1442.2 L1325.9,1446.6 L1322.1,1450.9 L1318.1,1455.3 L1314.1,1459.6 L1310.0,1464.0 L1305.7,1468.3 L1301.4,1472.7 L1297.0,1477.0 L1292.4,1481.4 L1287.8,1485.8 L1283.0,1490.1 L1278.2,1494.5 L1273.2,1498.8 L1268.1,1503.2 L1262.8,1507.5 L1257.5,1511.9 L1252.0,1516.2 L1246.4,1520.6 L1240.7,1524.9 L1234.8,1529.3 L1234.3,1529.1 L1233.9,1528.8 L1233.6,1528.4 L1233.3,1527.9 L1233.0,1527.2 L1232.9,1526.4 L1232.8,1525.4 L1232.7,1524.4 L1232.7,1523.2 L1232.8,1521.8 L1232.9,1520.4 L1233.1,1518.8 L1233.5,1514.5 L1233.9,1510.3 L1234.4,1506.0 L1235.0,1501.7 L1235.6,1497.5 L1236.2,1493.2 L1236.8,1489.0 L1237.4,1484.7 L1238.0,1480.4 L1238.6,1476.2 L1239.3,1471.9 L1239.9,1467.7 L1240.5,1463.4 L1241.1,1459.2 L1241.7,1454.9 L1242.4,1450.6 L1243.0,1446.4 L1243.6,1442.1 L1244.2,1437.9 L1244.8,1433.6 L1245.5,1429.3 L1246.1,1425.1 L1246.7,1420.8 L1247.3,1416.6 L1248.0,1412.3 L1248.6,1408.0 L1249.2,1403.8 L1249.8,1399.5 L1250.4,1395.3 L1251.1,1391.0 L1251.7,1386.7 L1252.3,1382.5 L1252.9,1378.2 L1253.5,1374.0 L1254.2,1369.7 L1254.8,1365.4 L1255.4,1361.2 L1256.0,1356.9 L1259.2,1335.3 L1262.3,1313.8 L1265.4,1292.2 L1268.6,1270.6 L1271.7,1249.0 L1274.9,1227.4 L1278.0,1205.9 L1281.2,1184.3 L1284.3,1162.7 L1287.7,1141.1 L1291.2,1119.5 L1294.7,1098.0 L1298.2,1076.4 L1301.7,1054.8 L1305.3,1033.2 L1308.8,1011.6 L1312.4,990.0 L1316.1,968.5 L1319.7,946.9 L1323.4,925.3 L1327.0,903.7 L1330.8,882.1 L1334.5,860.6 L1338.3,839.0 L1342.2,817.4 L1346.0,795.8 L1350.0,774.2 L1354.0,752.7 L1358.0,731.1 L1362.2,709.5 L1366.4,687.9 L1370.8,666.3 L1375.3,644.8 L1379.9,623.2 L1384.7,601.6 L1389.7,580.0 L1395.0,558.4 L1400.5,536.9 L1406.4,515.3 L1412.7,493.7 L1419.4,472.1 L1426.5,450.5 L1434.1,428.9 L1442.2,407.4 L1450.9,385.8 L1460.0,364.2 L1469.8,342.6 L1480.2,321.0 L1491.5,299.5 L1503.7,277.9 L1506.4,273.5 L1509.0,269.2 L1511.8,264.8 L1514.5,260.4 L1517.4,256.0 L1520.3,251.7 L1523.3,247.3 L1526.3,242.9 L1529.4,238.6 L1532.6,234.2 L1535.9,229.8 L1539.3,225.5 L1542.8,221.1 L1546.4,216.7 L1550.1,212.4 L1553.9,208.0 L1557.8,203.6 L1561.9,199.3 L1566.1,194.9 L1570.5,190.5 L1575.1,186.2 L1579.9,181.8 L1584.8,177.4 L1590.0,173.1 L1595.5,168.7 L1601.2,164.3 L1607.2,160.0 L1613.6,155.6 L1620.3,151.2 L1627.5,146.9 L1635.1,142.5 L1643.3,138.1 L1652.0,133.8 L1661.4,129.4 L1671.6,125.1 L1682.5,120.8 L1694.4,116.5 L1707.4,112.3 L1721.4,109.5 L1723.2,109.5 L1725.0,109.5 L1726.8,109.5 L1728.6,109.5 L1730.4,109.5 L1731.4,109.6 L1732.3,109.9 L1733.2,110.3 L1733.9,111.0 L1734.6,111.7 L1735.0,112.6 L1735.3,113.5 L1735.4,114.5 L1735.2,115.0 L1735.1,119.2 L1734.9,123.5 L1734.6,127.7 L1734.3,132.0 L1733.9,136.2 L1733.4,140.5 L1732.9,144.7 L1732.4,148.9 L1731.8,153.2 L1731.2,157.4 L1730.6,161.7 L1729.9,165.9 L1729.3,170.2 L1728.7,174.4 L1728.1,178.6 L1727.5,182.9 L1726.8,187.1 L1726.2,191.4 L1725.6,195.6 L1725.0,199.9 L1724.3,204.1 L1723.7,208.3 L1723.1,212.6 L1722.5,216.8 L1721.8,221.1 L1721.2,225.3 L1720.6,229.6 L1720.0,233.8 L1719.3,238.0 L1718.7,242.3 L1718.0,246.5 L1717.3,250.8 L1716.6,255.0 L1715.9,259.3 L1715.2,263.5 L1714.5,267.7 L1713.8,272.0 L1713.1,276.2 L1712.4,280.5 L1711.7,284.7 L1708.1,306.2 L1704.5,327.7 L1700.9,349.2 L1697.3,370.7 L1693.6,392.2 L1690.0,413.7 L1686.3,435.2 L1682.6,456.7 L1678.9,478.2 L1675.2,499.7 L1671.5,521.2 L1667.7,542.7 L1663.9,564.2 L1660.1,585.7 L1656.3,607.2 L1652.4,628.7 L1648.5,650.2 L1644.6,671.7 L1640.6,693.2 L1636.6,714.7 L1632.6,736.2 L1628.5,757.7 L1624.4,779.2 L1620.2,800.7 L1615.9,822.1 L1611.6,843.6 L1607.2,865.1 L1602.7,886.6 L1598.2,908.1 L1593.5,929.6 L1588.7,951.1 L1583.8,972.6 L1578.8,994.1 L1573.6,1015.6 L1568.2,1037.1 L1562.6,1058.6 L1556.8,1080.1 L1550.7,1101.6 L1544.3,1123.1 L1537.6,1144.6 L1530.5,1166.1 L1523.1,1187.6 L1515.2,1209.1 L1506.8,1230.6 L1498.0,1252.1 L1488.5,1273.6 L1478.5,1295.1 L1467.8,1316.6 L1456.3,1338.1 L1443.9,1359.6 L1441.3,1363.9 L1438.6,1368.3 L1435.9,1372.6 L1433.1,1377.0 L1430.3,1381.3 L1427.4,1385.7 L1424.5,1390.0 L1421.5,1394.4 L1418.5,1398.7 L1415.4,1403.1 L1412.3,1407.5 L1409.0,1411.8 L1405.8,1416.2 L1402.4,1420.5 L1399.0,1424.9 L1395.6,1429.2 L1392.0,1433.6 L1388.4,1437.9 L1384.7,1442.3 L1380.9,1446.6 L1377.0,1451.0 L1373.0,1455.3 L1369.0,1459.7 L1364.8,1464.0 L1360.5,1468.4 L1356.2,1472.7 L1351.7,1477.1 L1347.2,1481.4 L1342.5,1485.8 L1337.7,1490.1 L1332.8,1494.5 L1327.8,1498.8 L1322.6,1503.2 L1317.4,1507.5 L1312.0,1511.9 L1306.5,1516.2 L1300.9,1520.6 L1295.1,1524.9 L1289.2,1529.3 L1288.7,1529.1 L1288.3,1528.8 L1288.0,1528.4 L1287.7,1527.9 L1287.4,1527.2 L1287.3,1526.4 L1287.2,1525.4 L1287.1,1524.4 L1287.1,1523.2 L1287.2,1521.8 L1287.3,1520.4 L1287.5,1518.8 L1287.9,1514.5 L1288.3,1510.3 L1288.8,1506.0 L1289.4,1501.7 L1290.0,1497.5 L1290.6,1493.2 L1291.2,1489.0 L1291.8,1484.7 L1292.4,1480.4 L1293.0,1476.2 L1293.7,1471.9 L1294.3,1467.7 L1294.9,1463.4 L1295.5,1459.2 L1296.1,1454.9 L1296.8,1450.6 L1297.4,1446.4 L1298.0,1442.1 L1298.6,1437.9 L1299.2,1433.6 L1299.9,1429.3 L1300.5,1425.1 L1301.1,1420.8 L1301.7,1416.6 L1302.4,1412.3 L1303.0,1408.0 L1303.6,1403.8 L1304.2,1399.5 L1304.8,1395.3 L1305.5,1391.0 L1306.1,1386.7 L1306.7,1382.5 L1307.3,1378.2 L1307.9,1374.0 L1308.6,1369.7 L1309.2,1365.4 L1309.8,1361.2 L1310.4,1356.9 L1313.6,1335.3 L1316.7,1313.8 L1319.8,1292.2 L1323.0,1270.6 L1326.1,1249.0 L1329.3,1227.4 L1332.4,1205.9 L1335.6,1184.3 L1338.7,1162.7 L1342.1,1141.1 L1345.6,1119.5 L1349.1,1098.0 L1352.6,1076.4 L1356.1,1054.8 L1359.7,1033.2 L1363.2,1011.6 L1366.8,990.0 L1370.5,968.5 L1374.1,946.9 L1377.8,925.3 L1381.4,903.7 L1385.2,882.1 L1388.9,860.6 L1392.7,839.0 L1396.6,817.4" stroke="#ff0000" stroke-width="5.4" fill="none" stroke-linejoin="round" stroke-linecap="butt" />
<path d="M287.5,961.7 L288.3,956.0 L289.0,950.4 L289.8,944.7 L290.6,939.1 L291.4,933.4 L292.2,927.7 L292.9,922.1 L293.7,916.4 L294.5,910.7 L295.3,905.1 L296.1,899.4 L296.9,893.8 L297.7,888.1 L298.5,882.4 L299.2,876.8 L300.0,871.1 L300.8,865.5 L301.6,859.8 L302.4,854.1 L303.2,848.5 L304.0,842.8 L304.8,837.2 L305.6,831.5 L306.5,825.9 L307.3,820.2 L308.2,814.6 L309.1,808.9 L310.0,803.3 L311.0,797.6 L311.9,792.0 L312.9,786.4 L313.8,780.7 L314.8,775.1 L315.9,769.5 L316.9,763.9 L318.0,758.2 L319.1,752.6 L320.3,747.1 L321.5,741.5 L322.7,735.9 L324.0,730.3 L325.3,724.8 L326.7,719.2 L328.1,713.7 L329.5,708.1 L331.0,702.6 L332.4,697.1 L333.9,691.6 L335.5,686.0 L337.0,680.5 L338.6,675.1 L340.2,669.6 L341.8,664.1 L343.6,658.7 L345.4,653.2 L347.2,647.8 L349.0,642.4 L350.8,637.0 L352.7,631.6 L354.5,626.1 L356.3,620.7 L358.0,615.3 L359.7,609.8 L361.3,604.3 L362.9,598.8 L364.3,593.3 L365.8,587.8 L367.1,582.2 L368.5,576.6 L369.8,571.1 L371.1,565.5 L372.5,559.9 L373.9,554.4 L375.3,548.9 L376.8,543.3 L378.3,537.9 L379.9,532.4 L381.6,527.0 L383.4,521.5 L385.2,516.1 L387.0,510.7 L388.9,505.3 L390.9,499.9 L392.9,494.5 L394.9,489.1 L397.0,483.8 L399.2,478.5 L401.4,473.2 L403.7,468.0 L406.0,462.8 L408.3,457.6 L410.7,452.5 L413.3,447.4 L415.8,442.3 L418.5,437.2 L421.2,432.1 L424.0,427.1 L426.8,422.1 L429.7,417.1 L432.6,412.2 L435.6,407.3 L438.7,402.4 L441.7,397.6 L444.8,392.8 L447.9,388.1 L451.1,383.4 L454.4,378.7 L457.7,374.1 L461.0,369.5 L464.5,364.9 L468.0,360.3 L471.5,355.8 L475.1,351.3 L478.7,346.9 L482.4,342.5 L486.1,338.1 L489.8,333.7 L493.6,329.4 L497.3,325.1 L501.2,320.9 L505.0,316.6 L508.9,312.4 L512.8,308.2 L516.8,304.1 L520.9,300.1 L525.2,296.3 L529.6,292.8 L534.0,289.3 L538.6,285.9 L543.2,282.6 L547.9,279.3 L552.6,276.0 L557.5,272.8 L562.4,269.7 L567.3,266.7 L572.3,263.7 L577.3,260.9 L582.3,258.1 L587.4,255.4 L592.5,252.8 L597.7,250.3 L602.8,247.9 L607.9,245.6 L613.1,243.4 L618.4,241.3 L623.7,239.3 L629.0,237.3 L634.4,235.4 L639.8,233.6 L645.3,231.8 L650.8,230.0 L656.3,228.3 L661.8,226.6 L667.3,225.0 L672.8,223.4 L678.3,221.8 L683.8,220.2 L689.3,218.7 L694.8,217.2 L700.3,215.7 L705.9,214.2 L711.4,212.7 L716.9,211.3 L722.5,209.9 L728.0,208.5 L733.6,207.2 L739.2,205.8 L744.7,204.6 L750.3,203.3 L755.9,202.1 L761.5,201.0 L767.1,199.9 L772.7,198.8 L778.3,197.8 L784.0,196.9 L789.6,196.0 L795.3,195.1 L800.9,194.2 L806.6,193.3 L812.2,192.4 L817.8,191.5 L823.5,190.5 L829.1,189.5 L834.7,188.4 L840.3,187.4 L846.0,186.4 L851.6,185.4 L857.2,184.3 L862.8,183.3 L868.5,182.3 L874.1,181.3 L879.7,180.3 L885.3,179.3 L891.0,178.3 L896.6,177.4 L902.2,176.4 L907.9,175.4 L913.5,174.4 L919.1,173.5 L924.8,172.5 L930.4,171.5 L936.0,170.6 L941.7,169.7 L947.3,168.7 L952.9,167.8 L958.6,166.9 L964.2,165.9 L969.9,165.0 L975.5,164.1 L981.1,163.2 L986.8,162.3 L992.4,161.4 L998.1,160.5 L1003.7,159.6 L1009.4,158.7 L1015.0,157.9 L1020.7,157.0 L1026.3,156.2 L1032.0,155.3 L1037.6,154.5 L1043.3,153.6 L1048.9,152.8 L1054.6,152.0 L1060.2,151.1 L1065.9,150.3 L1071.5,149.5 L1077.2,148.7 L1082.8,147.8 L1088.5,147.0 L1094.2,146.1 L1099.8,145.3 L1105.5,144.5 L1111.1,143.6 L1116.8,142.8 L1122.4,141.9 L1128.1,141.1 L1133.7,140.3 L1139.4,139.4 L1145.0,138.6 L1150.7,137.7 L1156.3,136.9 L1162.0,136.0 L1167.6,135.2 L1173.3,134.3 L1178.9,133.5 L1184.6,132.6 L1190.2,131.7 L1195.9,130.9 L1201.5,130.0 L1207.2,129.1 L1212.8,128.1 L1218.4,127.2 L1224.1,126.3 L1229.7,125.4 L1235.4,124.4 L1241.0,123.5 L1246.6,122.5 L1252.3,121.6 L1257.9,120.6 L1257.1,126.2 L1256.4,131.7 L1255.6,137.3 L1254.9,142.8 L1254.1,148.4 L1253.3,153.9 L1252.6,159.5 L1251.8,165.0 L1251.1,170.6 L1250.3,176.2 L1249.5,181.7 L1248.8,187.3 L1248.0,192.8 L1247.2,198.4 L1246.5,203.9 L1245.7,209.5 L1245.0,215.0 L1244.2,220.6 L1243.4,226.2 L1242.7,231.7 L1241.9,237.3 L1241.2,242.8 L1240.4,248.4 L1239.6,253.9 L1238.9,259.5 L1238.1,265.0 L1237.4,270.6 L1236.6,276.2 L1235.8,281.7 L1235.1,287.3 L1231.0,313.7 L1226.8,340.0 L1222.6,366.4 L1218.3,392.8 L1214.0,419.2 L1209.7,445.6 L1205.4,472.0 L1201.0,498.4 L1196.6,524.8 L1192.2,551.2 L1187.7,577.5 L1183.2,603.9 L1178.7,630.3 L1174.1,656.7 L1169.4,683.1 L1164.7,709.5 L1160.0,735.9 L1155.2,762.3 L1150.3,788.7 L1145.3,815.1 L1140.3,841.4 L1135.2,867.8 L1130.0,894.2 L1124.7,920.6 L1119.3,947.0 L1113.7,973.4 L1108.0,999.8 L1102.2,1026.2 L1096.1,1052.6 L1089.9,1078.9 L1083.4,1105.3 L1076.7,1131.7 L1069.7,1158.1 L1062.3,1184.5 L1054.5,1210.9 L1046.2,1237.3 L1037.3,1263.7 L1027.6,1290.1 L1016.8,1316.4 L1004.8,1342.8 L1002.0,1348.6 L999.1,1354.3 L996.1,1360.1 L992.9,1365.8 L989.7,1371.6 L986.4,1377.3 L982.9,1383.1 L979.3,1388.8 L975.6,1394.6 L971.7,1400.3 L967.6,1406.1 L963.4,1411.8 L958.9,1417.5 L954.3,1423.3 L949.5,1429.0 L944.4,1434.8 L939.1,1440.5 L933.6,1446.3 L927.8,1452.0 L921.8,1457.8 L915.5,1463.5 L909.0,1469.3 L902.2,1475.0 L895.2,1480.8 L888.0,1486.5 L880.7,1492.3 L873.1,1498.0 L865.4,1503.8 L857.5,1509.5 L858.3,1503.9 L859.0,1498.4 L859.8,1492.8 L860.5,1487.3 L861.3,1481.7 L862.0,1476.2 L862.8,1470.6 L863.5,1465.1 L864.3,1459.5 L865.1,1454.0 L865.8,1448.4 L866.6,1442.8 L867.3,1437.3 L868.1,1431.7 L868.8,1426.2 L869.6,1420.6 L870.3,1415.1 L871.1,1409.5 L871.8,1404.0 L872.6,1398.4 L873.4,1392.8 L874.1,1387.3 L874.9,1381.7 L875.6,1376.2 L876.4,1370.6 L877.1,1365.1 L877.9,1359.5 L878.6,1354.0 L879.4,1348.4 L880.2,1342.9 L883.7,1316.5 L887.3,1290.1 L891.5,1263.7 L895.6,1237.3 L899.8,1210.9 L904.0,1184.5 L908.3,1158.2 L912.6,1131.8 L916.8,1105.4 L921.2,1079.0 L925.5,1052.6 L930.0,1026.2 L934.4,999.8 L938.9,973.5 L943.4,947.1 L948.0,920.7 L952.7,894.3 L957.4,867.9 L962.2,841.5 L967.1,815.1 L972.1,788.8 L977.2,762.4 L982.4,736.0 L987.7,709.6 L993.2,683.2 L998.9,656.8 L1004.8,630.5 L1010.9,604.1 L1017.3,577.7 L1024.0,551.3 L1031.1,524.9 L1038.5,498.5 L1046.5,472.1 L1054.9,445.8 L1064.0,419.4 L1073.8,393.0 L1084.5,366.6 L1096.2,340.2 L1109.1,313.8 L1123.8,287.4 L1127.2,281.7 L1130.8,276.0 L1134.5,270.2 L1138.3,264.5 L1142.3,258.7 L1146.4,253.0 L1150.7,247.2 L1155.1,241.5 L1159.8,235.7 L1164.7,230.0 L1169.8,224.2 L1175.2,218.5 L1180.8,212.7 L1186.8,207.0 L1193.2,201.2 L1200.0,195.5 L1207.3,189.8 L1215.0,184.0 L1223.4,178.3 L1232.3,172.5 L1242.1,166.8 L1252.6,161.0 L1264.0,155.3 L1276.4,149.5 L1289.8,143.8 L1304.3,138.0 L1319.9,132.3 L1336.5,126.5 L1354.0,120.8 L1353.2,126.4 L1352.5,132.0 L1351.7,137.5 L1350.9,143.1 L1350.1,148.7 L1349.4,154.3 L1348.6,159.9 L1347.8,165.4 L1347.0,171.0 L1346.3,176.6 L1345.5,182.2 L1344.7,187.7 L1343.9,193.3 L1343.2,198.9 L1342.4,204.5 L1341.6,210.1 L1340.8,215.6 L1340.1,221.2 L1339.3,226.8 L1338.5,232.4 L1337.7,238.0 L1337.0,243.5 L1336.2,249.1 L1335.4,254.7 L1334.6,260.3 L1333.9,265.8 L1333.1,271.4 L1332.3,277.0 L1331.5,282.6 L1330.7,288.2 L1326.5,314.7 L1322.2,341.2 L1318.0,367.7 L1313.7,394.2 L1309.4,420.7 L1305.0,447.2 L1300.7,473.7 L1296.3,500.2 L1291.9,526.7 L1287.5,553.2 L1283.0,579.7 L1278.5,606.2 L1273.9,632.7 L1269.3,659.2 L1264.7,685.7 L1260.0,712.2 L1255.3,738.7 L1250.5,765.2 L1245.6,791.7 L1240.7,818.1 L1235.7,844.6 L1230.5,871.1 L1225.3,897.6 L1220.0,924.1 L1214.5,950.6 L1208.9,977.1 L1203.1,1003.6 L1197.1,1030.1 L1190.9,1056.6 L1184.4,1083.1 L1177.6,1109.6 L1170.4,1136.1 L1162.8,1162.6 L1154.6,1189.1 L1145.9,1215.6 L1136.4,1242.1 L1126.0,1268.6 L1114.5,1295.1 L1101.7,1321.6 L1087.2,1348.1 L1083.8,1353.9 L1080.3,1359.7 L1076.6,1365.4 L1072.8,1371.2 L1068.9,1377.0 L1064.9,1382.8 L1060.7,1388.5 L1056.3,1394.3 L1051.8,1400.1 L1047.1,1405.8 L1042.1,1411.6 L1037.0,1417.4 L1031.7,1423.2 L1026.1,1428.9 L1020.2,1434.7 L1014.1,1440.5 L1007.7,1446.2 L1001.0,1452.0 L993.9,1457.8 L986.6,1463.6 L978.9,1469.3 L970.9,1475.1 L962.5,1480.9 L953.8,1486.6 L944.7,1492.4 L935.3,1498.2 L925.7,1504.0 L915.7,1509.7 L905.5,1515.5 L906.3,1509.9 L907.1,1504.3 L907.9,1498.8 L908.6,1493.2 L909.4,1487.6 L910.2,1482.0 L911.0,1476.4 L911.8,1470.8 L912.6,1465.3 L913.4,1459.7 L914.1,1454.1 L914.9,1448.5 L915.7,1442.9 L916.5,1437.3 L917.3,1431.8 L918.1,1426.2 L918.8,1420.6 L919.6,1415.0 L920.4,1409.4 L921.2,1403.8 L922.0,1398.3 L922.8,1392.7 L923.6,1387.1 L924.3,1381.5 L925.1,1375.9 L925.9,1370.3 L926.7,1364.8 L927.5,1359.2 L928.3,1353.6 L929.1,1348.0 L932.8,1321.5 L936.5,1295.0 L940.2,1268.5 L944.4,1241.9 L948.7,1215.4 L953.0,1188.9 L957.3,1162.4 L961.7,1135.9 L966.0,1109.4 L970.5,1082.8 L974.9,1056.3 L979.4,1029.8 L983.9,1003.3 L988.4,976.8 L993.0,950.2 L997.6,923.7 L1002.3,897.2 L1007.1,870.7 L1011.9,844.2 L1016.7,817.6 L1021.7,791.1 L1026.7,764.6 L1031.9,738.1 L1037.2,711.6 L1042.6,685.1 L1048.1,658.5 L1053.9,632.0 L1059.9,605.5 L1066.1,579.0 L1072.7,552.5 L1079.6,525.9 L1086.9,499.4 L1094.8,472.9 L1103.4,446.4 L1112.6,419.9 L1122.8,393.4 L1133.9,366.8 L1146.1,340.3 L1159.6,313.8 L1174.6,287.3 L1178.1,281.5 L1181.7,275.7 L1185.4,270.0 L1189.2,264.2 L1193.1,258.4 L1197.1,252.6 L1201.2,246.9 L1205.5,241.1 L1209.9,235.3 L1214.5,229.5 L1219.3,223.8 L1224.2,218.0 L1229.4,212.2 L1234.7,206.4 L1240.4,200.7 L1246.3,194.9 L1252.5,189.1 L1259.1,183.3 L1266.1,177.6 L1273.6,171.8 L1281.6,166.0 L1290.3,160.2 L1299.7,154.5 L1310.1,148.7 L1321.7,142.9 L1334.8,137.1 L1349.9,131.4 L1367.8,125.6 L1389.8,119.8 L1389.1,125.4 L1388.3,131.0 L1387.6,136.6 L1386.8,142.2 L1386.1,147.8 L1385.3,153.4 L1384.5,159.0 L1383.6,164.6 L1382.8,170.2 L1381.9,175.8 L1381.1,181.4 L1380.2,187.0 L1379.4,192.6 L1378.5,198.2 L1377.7,203.8 L1376.8,209.4 L1376.0,215.0 L1375.1,220.6 L1374.2,226.2 L1373.4,231.8 L1372.5,237.4 L1371.7,243.0 L1370.8,248.6 L1369.9,254.2 L1369.1,259.8 L1368.2,265.4 L1367.4,271.0 L1366.5,276.6 L1365.6,282.2 L1364.8,287.8 L1360.6,314.4 L1356.5,341.0 L1352.3,367.6 L1348.1,394.2 L1343.9,420.8 L1339.7,447.4 L1335.4,474.1 L1331.1,500.7 L1326.8,527.3 L1322.4,553.9 L1318.0,580.5 L1313.5,607.1 L1309.0,633.7 L1304.5,660.3 L1299.8,686.9 L1295.2,713.5 L1290.4,740.1 L1285.6,766.7 L1280.7,793.3 L1275.7,819.9 L1270.6,846.5 L1265.4,873.1 L1260.1,899.7 L1254.6,926.3 L1249.0,952.9 L1243.2,979.5 L1237.1,1006.1 L1230.9,1032.7 L1224.4,1059.3 L1217.7,1085.9 L1210.6,1112.5 L1203.1,1139.1 L1195.2,1165.7 L1186.9,1192.4 L1177.9,1219.0 L1168.2,1245.6 L1157.7,1272.2 L1146.1,1298.8 L1133.0,1325.4 L1118.1,1352.0 L1114.6,1357.8 L1110.9,1363.6 L1107.0,1369.4 L1103.0,1375.2 L1098.9,1380.9 L1094.5,1386.7 L1090.0,1392.5 L1085.2,1398.3 L1080.3,1404.1 L1075.0,1409.9 L1069.5,1415.7 L1063.7,1421.5 L1057.6,1427.3 L1051.1,1433.1 L1044.3,1438.9 L1037.0,1444.7 L1029.4,1450.5 L1021.3,1456.3 L1012.9,1462.1 L1003.9,1467.9 L994.6,1473.6 L984.8,1479.4 L974.7,1485.2 L964.2,1491.0 L953.3,1496.8 L942.2,1502.6 L930.8,1508.4 L919.3,1514.2 L907.5,1520.0 L908.3,1514.4 L909.1,1508.8 L909.9,1503.2 L910.7,1497.6 L911.6,1492.0 L912.4,1486.3 L913.2,1480.7 L914.0,1475.1 L914.8,1469.5 L915.6,1463.9 L916.4,1458.3 L917.2,1452.7 L918.0,1447.1 L918.8,1441.5 L919.7,1435.8 L920.5,1430.2 L921.3,1424.6 L922.1,1419.0 L922.9,1413.4 L923.7,1407.8 L924.5,1402.2 L925.3,1396.6 L926.1,1391.0 L927.0,1385.4 L927.8,1379.8 L928.6,1374.1 L929.4,1368.5 L930.2,1362.9 L931.0,1357.3 L931.9,1351.7 L935.9,1325.1 L940.0,1298.4 L944.0,1271.8 L948.3,1245.1 L952.7,1218.5 L957.0,1191.8 L961.4,1165.2 L965.9,1138.5 L970.3,1111.9 L974.8,1085.2 L979.3,1058.6 L983.8,1031.9 L988.3,1005.3 L992.9,978.6 L997.6,952.0 L1002.2,925.3 L1007.0,898.7 L1011.7,872.0 L1016.6,845.4 L1021.5,818.8 L1026.4,792.1 L1031.5,765.5 L1036.6,738.8 L1041.9,712.2 L1047.3,685.5 L1052.8,658.9 L1058.6,632.2 L1064.5,605.6 L1070.7,578.9 L1077.2,552.3 L1084.1,525.6 L1091.5,499.0 L1099.4,472.3 L1108.1,445.7 L1117.6,419.0 L1128.1,392.4 L1139.8,365.7 L1152.7,339.1 L1166.9,312.4 L1182.7,285.8 L1186.4,280.0 L1190.2,274.2 L1194.1,268.4 L1198.1,262.6 L1202.2,256.8 L1206.4,251.0 L1210.7,245.2 L1215.2,239.4 L1219.9,233.6 L1224.7,227.8 L1229.7,222.0 L1234.8,216.2 L1240.2,210.4 L1245.8,204.6 L1251.7,198.7 L1257.8,192.9 L1264.3,187.1 L1271.1,181.3 L1278.4,175.5 L1286.1,169.7 L1294.3,163.9 L1303.2,158.1 L1312.8,152.3 L1323.3,146.5 L1335.0,140.7 L1348.0,134.9 L1362.9,129.1 L1380.3,123.3 L1401.3,117.5 L1400.5,123.1 L1399.7,128.7 L1399.0,134.4 L1398.2,140.0 L1397.4,145.6 L1396.6,151.2 L1395.8,156.8 L1395.0,162.4 L1394.3,168.1 L1393.5,173.7 L1392.7,179.3 L1391.9,184.9 L1391.1,190.5 L1390.3,196.2 L1389.6,201.8 L1388.8,207.4 L1388.0,213.0 L1387.2,218.6 L1386.4,224.2 L1385.6,229.9 L1384.9,235.5 L1384.1,241.1 L1383.3,246.7 L1382.5,252.3 L1381.7,258.0 L1380.9,263.6 L1380.2,269.2 L1379.4,274.8 L1378.6,280.4 L1377.8,286.0 L1374.1,312.7 L1370.4,339.4 L1366.6,366.1 L1362.5,392.8 L1358.1,419.5 L1353.7,446.2 L1349.3,472.8 L1344.9,499.5 L1340.4,526.2 L1335.9,552.9 L1331.3,579.6 L1326.7,606.3 L1322.1,633.0 L1317.4,659.6 L1312.7,686.3 L1307.9,713.0 L1303.0,739.7 L1298.1,766.4 L1293.1,793.1 L1288.0,819.8 L1282.8,846.4 L1277.4,873.1 L1272.0,899.8 L1266.4,926.5 L1260.7,953.2 L1254.7,979.9 L1248.6,1006.5 L1242.3,1033.2 L1235.6,1059.9 L1228.7,1086.6 L1221.4,1113.3 L1213.8,1140.0 L1205.6,1166.7 L1197.0,1193.3 L1187.7,1220.0 L1177.6,1246.7 L1166.6,1273.4 L1154.5,1300.1 L1140.8,1326.8 L1125.1,1353.5 L1121.3,1359.3 L1117.4,1365.1 L1113.4,1370.9 L1109.2,1376.7 L1104.8,1382.5 L1100.2,1388.3 L1095.4,1394.1 L1090.4,1400.0 L1085.1,1405.8 L1079.6,1411.6 L1073.8,1417.4 L1067.7,1423.2 L1061.2,1429.0 L1054.4,1434.8 L1047.3,1440.6 L1039.7,1446.4 L1031.8,1452.3 L1023.4,1458.1 L1014.6,1463.9 L1005.5,1469.7 L995.9,1475.5 L986.0,1481.3 L975.7,1487.1 L965.1,1492.9 L954.2,1498.8 L943.1,1504.6 L931.7,1510.4 L920.2,1516.2 L908.5,1522.0 L909.3,1516.4 L910.1,1510.8 L911.0,1505.1 L911.8,1499.5 L912.6,1493.9 L913.4,1488.3 L914.3,1482.6 L915.1,1477.0 L915.9,1471.4 L916.7,1465.8 L917.6,1460.1 L918.4,1454.5 L919.2,1448.9 L920.0,1443.3 L920.8,1437.6 L921.7,1432.0 L922.5,1426.4 L923.3,1420.8 L924.1,1415.1 L925.0,1409.5 L925.8,1403.9 L926.6,1398.3 L927.4,1392.6 L928.3,1387.0 L929.1,1381.4 L929.9,1375.8 L930.7,1370.1 L931.5,1364.5 L932.4,1358.9 L933.3,1353.3 L937.5,1326.5 L941.7,1299.8 L945.9,1273.1 L950.3,1246.4 L954.7,1219.7 L959.1,1192.9 L963.5,1166.2 L967.9,1139.5 L972.4,1112.8 L976.9,1086.1 L981.4,1059.4 L986.0,1032.6 L990.6,1005.9 L995.2,979.2 L999.8,952.5 L1004.5,925.8 L1009.3,899.1 L1014.1,872.3 L1018.9,845.6 L1023.8,818.9 L1028.8,792.2 L1033.8,765.5 L1039.0,738.7 L1044.2,712.0 L1049.6,685.3 L1055.2,658.6 L1060.9,631.9 L1066.8,605.2 L1073.0,578.4 L1079.4,551.7 L1086.3,525.0 L1093.7,498.3 L1101.7,471.6 L1110.4,444.9 L1120.0,418.1 L1130.8,391.4 L1142.7,364.7 L1155.9,338.0 L1170.5,311.3 L1186.8,284.5 L1190.6,278.7 L1194.4,272.9 L1198.4,267.1 L1202.5,261.3 L1206.7,255.5 L1211.0,249.6 L1215.5,243.8 L1220.1,238.0 L1224.8,232.2 L1229.7,226.4 L1234.8,220.5 L1240.1,214.7 L1245.6,208.9 L1251.3,203.1 L1257.3,197.3 L1263.6,191.4 L1270.1,185.6 L1277.1,179.8 L1284.4,174.0 L1292.2,168.2 L1300.6,162.4 L1309.6,156.5 L1319.3,150.7 L1329.9,144.9 L1341.6,139.1 L1354.6,133.3 L1369.4,127.4 L1386.5,121.6 L1407.0,115.8 L1406.2,121.4 L1405.4,127.1 L1404.6,132.7 L1403.8,138.3 L1403.0,144.0 L1402.2,149.6 L1401.4,155.2 L1400.6,160.9 L1399.8,166.5 L1399.0,172.1 L1398.2,177.8 L1397.4,183.4 L1396.6,189.0 L1395.8,194.7 L1395.0,200.3 L1394.2,205.9 L1393.4,211.6 L1392.6,217.2 L1391.8,222.8 L1391.0,228.5 L1390.3,234.1 L1389.5,239.7 L1388.7,245.4 L1387.9,251.0 L1387.1,256.6 L1386.3,262.3 L1385.5,267.9 L1384.7,273.5 L1383.9,279.2 L1383.1,284.8 L1379.3,311.5 L1375.5,338.3 L1371.6,365.1 L1367.3,391.8 L1362.9,418.6 L1358.5,445.3 L1354.0,472.1 L1349.5,498.8 L1345.0,525.6 L1340.5,552.3 L1335.9,579.1 L1331.3,605.9 L1326.6,632.6 L1321.9,659.4 L1317.2,686.1 L1312.4,712.9 L1307.5,739.6 L1302.6,766.4 L1297.6,793.1 L1292.5,819.9 L1287.3,846.7 L1282.0,873.4 L1276.6,900.2 L1271.0,926.9 L1265.3,953.7 L1259.5,980.4 L1253.4,1007.2 L1247.1,1033.9 L1240.6,1060.7 L1233.7,1087.5 L1226.5,1114.2 L1218.9,1141.0 L1210.8,1167.7 L1202.1,1194.5 L1192.8,1221.2 L1182.6,1248.0 L1171.4,1274.7 L1159.0,1301.5 L1145.2,1328.3 L1129.3,1355.0 L1125.6,1360.8 L1121.7,1366.7 L1117.6,1372.5 L1113.4,1378.3 L1109.1,1384.2 L1104.6,1390.0 L1099.8,1395.8 L1094.9,1401.6 L1089.8,1407.5 L1084.4,1413.3 L1078.7,1419.1 L1072.8,1424.9 L1066.5,1430.8 L1059.9,1436.6 L1053.0,1442.4 L1045.7,1448.2 L1038.0,1454.1 L1029.9,1459.9 L1021.3,1465.7 L1012.3,1471.6 L1002.8,1477.4 L992.8,1483.2 L982.3,1489.0 L971.4,1494.9 L959.9,1500.7 L948.0,1506.5 L935.7,1512.3 L922.9,1518.2 L909.7,1524.0 L910.5,1518.4 L911.4,1512.7 L912.2,1507.1 L913.0,1501.4 L913.8,1495.8 L914.7,1490.2 L915.5,1484.5 L916.3,1478.9 L917.1,1473.3 L918.0,1467.6 L918.8,1462.0 L919.6,1456.3 L920.5,1450.7 L921.3,1445.1 L922.1,1439.4 L922.9,1433.8 L923.8,1428.2 L924.6,1422.5 L925.4,1416.9 L926.2,1411.2 L927.1,1405.6 L927.9,1400.0 L928.7,1394.3 L929.5,1388.7 L930.4,1383.1 L931.2,1377.4 L932.0,1371.8 L932.9,1366.1 L933.7,1360.5 L934.6,1354.9 L938.9,1328.1 L943.2,1301.3 L947.5,1274.5 L951.8,1247.8 L956.2,1221.0 L960.6,1194.2 L965.1,1167.4 L969.5,1140.6 L974.0,1113.9 L978.5,1087.1 L983.0,1060.3 L987.6,1033.5 L992.2,1006.8 L996.8,980.0 L1001.4,953.2 L1006.1,926.4 L1010.9,899.6 L1015.6,872.9 L1020.5,846.1 L1025.4,819.3 L1030.3,792.5 L1035.4,765.7 L1040.5,739.0 L1045.8,712.2 L1051.1,685.4 L1056.6,658.6 L1062.3,631.8 L1068.2,605.1 L1074.4,578.3 L1080.8,551.5 L1087.7,524.7 L1095.1,498.0 L1103.0,471.2 L1111.8,444.4 L1121.5,417.6 L1132.3,390.8 L1144.3,364.1 L1157.7,337.3 L1172.5,310.5 L1189.0,283.7 L1192.8,277.9 L1196.7,272.1 L1200.8,266.2 L1204.9,260.4 L1209.1,254.6 L1213.5,248.7 L1218.0,242.9 L1222.7,237.1 L1227.5,231.2 L1232.4,225.4 L1237.6,219.6 L1242.9,213.7 L1248.5,207.9 L1254.2,202.1 L1260.3,196.2 L1266.6,190.4 L1273.2,184.6 L1280.2,178.8 L1287.6,172.9 L1295.5,167.1 L1303.9,161.3 L1312.9,155.4 L1322.7,149.6 L1333.3,143.8 L1345.0,137.9 L1358.1,132.1 L1372.8,126.3 L1389.8,120.4 L1410.0,114.6 L1409.2,120.2 L1408.4,125.9 L1407.6,131.5 L1406.8,137.2 L1406.0,142.8 L1405.2,148.4 L1404.4,154.1 L1403.6,159.7 L1402.8,165.4 L1401.9,171.0 L1401.1,176.7 L1400.3,182.3 L1399.5,187.9 L1398.7,193.6 L1397.9,199.2 L1397.1,204.9 L1396.3,210.5 L1395.5,216.1 L1394.7,221.8 L1393.9,227.4 L1393.1,233.1 L1392.3,238.7 L1391.5,244.4 L1390.7,250.0 L1389.9,255.6 L1389.1,261.3 L1388.3,266.9 L1387.4,272.6 L1386.6,278.2 L1385.8,283.8 L1382.0,310.6 L1378.2,337.4 L1374.2,364.2 L1369.9,391.0 L1365.4,417.8 L1361.0,444.6 L1356.5,471.4 L1352.0,498.2 L1347.5,525.0 L1342.9,551.8 L1338.3,578.6 L1333.7,605.4 L1329.0,632.2 L1324.3,659.0 L1319.5,685.8 L1314.7,712.6 L1309.8,739.4 L1304.9,766.2 L1299.9,793.0 L1294.8,819.8 L1289.6,846.6 L1284.4,873.4 L1279.0,900.2 L1273.5,927.0 L1267.8,953.8 L1262.0,980.6 L1255.9,1007.4 L1249.7,1034.2 L1243.2,1061.0 L1236.4,1087.8 L1229.2,1114.6 L1221.6,1141.4 L1213.5,1168.2 L1204.8,1195.0 L1195.4,1221.8 L1185.1,1248.6 L1173.9,1275.4 L1161.4,1302.2 L1147.4,1329.0 L1131.5,1355.8 L1127.8,1361.6 L1123.9,1367.4 L1119.8,1373.3 L1115.7,1379.1 L1111.3,1384.9 L1106.8,1390.8 L1102.1,1396.6 L1097.3,1402.4 L1092.2,1408.3 L1086.8,1414.1 L1081.3,1419.9 L1075.4,1425.8 L1069.3,1431.6 L1062.8,1437.5 L1056.0,1443.3 L1048.8,1449.1 L1041.3,1455.0 L1033.3,1460.8 L1024.8,1466.6 L1015.9,1472.5 L1006.4,1478.3 L996.4,1484.1 L985.8,1490.0 L974.7,1495.8 L962.9,1501.7 L950.6,1507.5 L937.7,1513.3 L924.3,1519.2 L910.3,1525.0 L911.1,1519.4 L912.0,1513.7 L912.8,1508.1 L913.6,1502.4 L914.4,1496.8 L915.3,1491.1 L916.1,1485.5 L916.9,1479.8 L917.8,1474.2 L918.6,1468.6 L919.4,1462.9 L920.3,1457.3 L921.1,1451.6 L921.9,1446.0 L922.7,1440.3 L923.6,1434.7 L924.4,1429.0 L925.2,1423.4 L926.1,1417.7 L926.9,1412.1 L927.7,1406.5 L928.5,1400.8 L929.4,1395.2 L930.2,1389.5 L931.0,1383.9 L931.9,1378.2 L932.7,1372.6 L933.5,1366.9 L934.4,1361.3 L935.3,1355.7 L939.6,1328.8 L943.9,1302.0 L948.3,1275.2 L952.7,1248.4 L957.1,1221.6 L961.5,1194.8 L965.9,1168.0 L970.4,1141.2 L974.9,1114.3 L979.4,1087.5 L983.9,1060.7 L988.4,1033.9 L993.0,1007.1 L997.6,980.3 L1002.3,953.5 L1007.0,926.7 L1011.7,899.8 L1016.5,873.0 L1021.3,846.2 L1026.2,819.4 L1031.2,792.6 L1036.2,765.8 L1041.4,739.0 L1046.6,712.1 L1052.0,685.3 L1057.5,658.5 L1063.1,631.7 L1069.0,604.9 L1075.2,578.1 L1081.6,551.3 L1088.5,524.5 L1095.8,497.6 L1103.8,470.8 L1112.5,444.0 L1122.3,417.2 L1133.1,390.4 L1145.3,363.6 L1158.7,336.8 L1173.7,310.0 L1190.2,283.1 L1194.1,277.3 L1198.0,271.5 L1202.1,265.6 L1206.2,259.8 L1210.5,253.9 L1214.9,248.1 L1219.5,242.3 L1224.1,236.4 L1229.0,230.6 L1234.0,224.7 L1239.1,218.9 L1244.5,213.1 L1250.1,207.2 L1255.9,201.4 L1262.0,195.6 L1268.3,189.7 L1275.0,183.9 L1282.0,178.0 L1289.5,172.2 L1297.4,166.4 L1305.8,160.5 L1314.9,154.7 L1324.6,148.8 L1335.3,143.0 L1347.0,137.2 L1360.0,131.3 L1374.7,125.5 L1391.7,119.6 L1411.7,113.8 L1410.9,119.4 L1410.1,125.1 L1409.3,130.7 L1408.5,136.4 L1407.7,142.0 L1406.8,147.7 L1406.0,153.3 L1405.2,159.0 L1404.4,164.6 L1403.6,170.3 L1402.8,175.9 L1402.0,181.6 L1401.2,187.2 L1400.4,192.9 L1399.6,198.5 L1398.7,204.1 L1397.9,209.8 L1397.1,215.4 L1396.3,221.1 L1395.5,226.7 L1394.7,232.4 L1393.9,238.0 L1393.1,243.7 L1392.3,249.3 L1391.5,255.0 L1390.6,260.6 L1389.8,266.3 L1389.0,271.9 L1388.2,277.6 L1387.4,283.2 L1383.6,310.0 L1379.7,336.8 L1375.7,363.7 L1371.3,390.5 L1366.8,417.3 L1362.4,444.1 L1357.9,471.0 L1353.4,497.8 L1348.8,524.6 L1344.3,551.4 L1339.7,578.2 L1335.0,605.1 L1330.3,631.9 L1325.6,658.7 L1320.8,685.5 L1316.0,712.4 L1311.1,739.2 L1306.2,766.0 L1301.2,792.8 L1296.1,819.6 L1290.9,846.5 L1285.7,873.3 L1280.3,900.1 L1274.8,926.9 L1269.2,953.8 L1263.3,980.6 L1257.3,1007.4 L1251.1,1034.2 L1244.6,1061.1 L1237.8,1087.9 L1230.7,1114.7 L1223.1,1141.5 L1215.0,1168.3 L1206.3,1195.2 L1196.9,1222.0 L1186.6,1248.8 L1175.3,1275.6 L1162.7,1302.5 L1148.7,1329.3 L1132.7,1356.1 L1129.0,1361.9 L1125.1,1367.8 L1121.0,1373.6 L1116.9,1379.5 L1112.6,1385.3 L1108.1,1391.1 L1103.4,1397.0 L1098.6,1402.8 L1093.5,1408.7 L1088.2,1414.5 L1082.7,1420.4 L1076.9,1426.2 L1070.8,1432.0 L1064.4,1437.9 L1057.7,1443.7 L1050.6,1449.6 L1043.1,1455.4 L1035.1,1461.2 L1026.7,1467.1 L1017.8,1472.9 L1008.4,1478.8 L998.4,1484.6 L987.7,1490.5 L976.5,1496.3 L964.6,1502.1 L952.0,1508.0 L938.8,1513.8 L925.0,1519.7 L910.6,1525.5 L911.4,1519.9 L912.3,1514.2 L913.1,1508.6 L913.9,1502.9 L914.8,1497.3 L915.6,1491.6 L916.4,1486.0 L917.2,1480.3 L918.1,1474.7 L918.9,1469.0 L919.7,1463.4 L920.6,1457.7 L921.4,1452.1 L922.2,1446.4 L923.1,1440.8 L923.9,1435.1 L924.7,1429.5 L925.6,1423.8 L926.4,1418.2 L927.2,1412.5 L928.0,1406.9 L928.9,1401.2 L929.7,1395.6 L930.5,1389.9 L931.4,1384.3 L932.2,1378.6 L933.0,1373.0 L933.9,1367.3 L934.8,1361.7 L935.7,1356.0 L940.0,1329.2 L944.3,1302.4 L948.7,1275.5 L953.1,1248.7 L957.5,1221.9 L961.9,1195.0 L966.4,1168.2 L970.8,1141.4 L975.3,1114.5 L979.8,1087.7 L984.3,1060.9 L988.9,1034.1 L993.5,1007.2 L998.1,980.4 L1002.7,953.6 L1007.4,926.7 L1012.2,899.9 L1016.9,873.1 L1021.8,846.2 L1026.7,819.4 L1031.6,792.6 L1036.7,765.7 L1041.8,738.9 L1047.0,712.1 L1052.4,685.2 L1057.9,658.4 L1063.5,631.6 L1069.4,604.7 L1075.6,577.9 L1082.0,551.1 L1088.8,524.3 L1096.2,497.4 L1104.2,470.6 L1112.9,443.8 L1122.7,416.9 L1133.6,390.1 L1145.7,363.3 L1159.3,336.4 L1174.2,309.6 L1190.9,282.8 L1194.7,276.9 L1198.7,271.1 L1202.8,265.2 L1207.0,259.4 L1211.3,253.5 L1215.7,247.7 L1220.2,241.9 L1224.9,236.0 L1229.8,230.2 L1234.8,224.3 L1240.0,218.5 L1245.3,212.6 L1250.9,206.8 L1256.8,201.0 L1262.9,195.1 L1269.2,189.3 L1275.9,183.4 L1283.0,177.6 L1290.4,171.7 L1298.3,165.9 L1306.8,160.0 L1315.9,154.2 L1325.7,148.4 L1336.3,142.5 L1348.0,136.7 L1361.1,130.8 L1375.8,125.0 L1392.7,119.1 L1412.6,113.3 L1411.8,119.0 L1411.0,124.6 L1410.2,130.2 L1409.4,135.9 L1408.5,141.6 L1407.7,147.2 L1406.9,152.8 L1406.1,158.5 L1405.3,164.2 L1404.5,169.8 L1403.7,175.4 L1402.9,181.1 L1402.0,186.8 L1401.2,192.4 L1400.4,198.1 L1399.6,203.7 L1398.8,209.4 L1398.0,215.0 L1397.2,220.6 L1396.4,226.3 L1395.5,231.9 L1394.7,237.6 L1393.9,243.2 L1393.1,248.9 L1392.3,254.6 L1391.5,260.2 L1390.7,265.9 L1389.9,271.5 L1389.0,277.1 L1388.2,282.8 L1384.4,309.6 L1380.5,336.5 L1376.5,363.3 L1372.1,390.2 L1367.6,417.0 L1363.1,443.8 L1358.6,470.7 L1354.1,497.5 L1349.6,524.3 L1345.0,551.2 L1340.4,578.0 L1335.7,604.8 L1331.1,631.7 L1326.3,658.5 L1321.6,685.4 L1316.7,712.2 L1311.9,739.0 L1306.9,765.9 L1301.9,792.7 L1296.8,819.5 L1291.7,846.4 L1286.4,873.2 L1281.0,900.1 L1275.5,926.9 L1269.9,953.7 L1264.1,980.6 L1258.1,1007.4 L1251.9,1034.2 L1245.4,1061.1 L1238.6,1087.9 L1231.5,1114.8 L1223.9,1141.6 L1215.8,1168.4 L1207.1,1195.3 L1197.7,1222.1 L1187.4,1248.9 L1176.0,1275.8 L1163.4,1302.6 L1149.4,1329.5 L1133.4,1356.3 L1129.7,1362.1 L1125.8,1368.0 L1121.7,1373.8 L1117.6,1379.7 L1113.2,1385.5 L1108.8,1391.4 L1104.1,1397.2 L1099.3,1403.1 L1094.2,1408.9 L1089.0,1414.7 L1083.5,1420.6 L1077.7,1426.4 L1071.7,1432.3 L1065.3,1438.1 L1058.6,1444.0 L1051.5,1449.8 L1044.1,1455.7 L1036.2,1461.5 L1027.8,1467.4 L1018.9,1473.2 L1009.5,1479.0 L999.5,1484.9 L988.8,1490.7 L977.5,1496.6 L965.5,1502.4 L952.8,1508.3 L939.5,1514.1 L925.5,1520.0 L910.8,1525.8 L911.6,1520.1 L912.5,1514.5 L913.3,1508.8 L914.1,1503.2 L915.0,1497.5 L915.8,1491.9 L916.6,1486.2 L917.5,1480.6 L918.3,1474.9 L919.1,1469.3 L919.9,1463.6 L920.8,1458.0 L921.6,1452.3 L922.4,1446.7 L923.3,1441.0 L924.1,1435.4 L924.9,1429.7 L925.8,1424.1 L926.6,1418.4 L927.4,1412.8 L928.3,1407.1 L929.1,1401.5 L929.9,1395.8 L930.8,1390.2 L931.6,1384.5 L932.4,1378.9 L933.3,1373.2 L934.1,1367.6 L935.0,1361.9 L935.9,1356.3 L940.2,1329.4 L944.6,1302.6 L949.0,1275.7 L953.3,1248.9 L957.8,1222.0 L962.2,1195.2 L966.6,1168.4 L971.1,1141.5 L975.6,1114.7 L980.1,1087.8 L984.6,1061.0 L989.1,1034.1 L993.7,1007.3 L998.3,980.5 L1003.0,953.6 L1007.7,926.8 L1012.4,899.9 L1017.2,873.1 L1022.0,846.2 L1026.9,819.4 L1031.9,792.6 L1036.9,765.7 L1042.1,738.9 L1047.3,712.0 L1052.6,685.2 L1058.1,658.3 L1063.8,631.5 L1069.7,604.7 L1075.8,577.8 L1082.2,551.0 L1089.1,524.1 L1096.4,497.3 L1104.4,470.4 L1113.2,443.6 L1122.9,416.8 L1133.8,389.9 L1146.0,363.1 L1159.6,336.2 L1174.6,309.4 L1191.2,282.5 L1195.1,276.7 L1199.1,270.8 L1203.2,265.0 L1207.4,259.2 L1211.7,253.3 L1216.1,247.5 L1220.6,241.6 L1225.3,235.8 L1230.2,229.9 L1235.2,224.1 L1240.4,218.2 L1245.8,212.4 L1251.4,206.5 L1257.3,200.7 L1263.4,194.8 L1269.7,189.0 L1276.4,183.2 L1283.5,177.3 L1291.0,171.5 L1298.9,165.6 L1307.4,159.8 L1316.4,153.9 L1326.2,148.1 L1336.9,142.2 L1348.6,136.4 L1361.6,130.5 L1376.3,124.7 L1393.2,118.8 L1413.1,113.0 L1412.3,118.7 L1411.5,124.3 L1410.7,130.0 L1409.8,135.6 L1409.0,141.3 L1408.2,146.9 L1407.4,152.6 L1406.6,158.2 L1405.8,163.9 L1405.0,169.5 L1404.2,175.2 L1403.3,180.8 L1402.5,186.5 L1401.7,192.1 L1400.9,197.8 L1400.1,203.4 L1399.3,209.1 L1398.5,214.7 L1397.6,220.4 L1396.8,226.0 L1396.0,231.7 L1395.2,237.3 L1394.4,243.0 L1393.6,248.6 L1392.8,254.3 L1391.9,259.9 L1391.1,265.6 L1390.3,271.2 L1389.5,276.9 L1388.7,282.5 L1384.8,309.4 L1381.0,336.2 L1376.9,363.1 L1372.5,389.9 L1368.0,416.8 L1363.6,443.6 L1359.1,470.5 L1354.5,497.3 L1350.0,524.2 L1345.4,551.0 L1340.8,577.8 L1336.1,604.7 L1331.4,631.5 L1326.7,658.4 L1321.9,685.2 L1317.1,712.1 L1312.2,738.9 L1307.3,765.8 L1302.3,792.6 L1297.2,819.5 L1292.1,846.3 L1286.8,873.1 L1281.4,900.0 L1275.9,926.8 L1270.3,953.7 L1264.5,980.5 L1258.5,1007.4 L1252.3,1034.2 L1245.9,1061.1 L1239.1,1087.9 L1231.9,1114.7 L1224.4,1141.6 L1216.3,1168.4 L1207.6,1195.3 L1198.1,1222.1 L1187.8,1249.0 L1176.4,1275.8 L1163.8,1302.7 L1149.8,1329.5 L1133.8,1356.4 L1130.0,1362.2 L1126.1,1368.0 L1122.1,1373.9 L1117.9,1379.7 L1113.6,1385.6 L1109.1,1391.4 L1104.5,1397.3 L1099.7,1403.1 L1094.6,1409.0 L1089.4,1414.8 L1083.9,1420.7 L1078.1,1426.5 L1072.1,1432.4 L1065.8,1438.2 L1059.1,1444.0 L1052.1,1449.9 L1044.6,1455.7 L1036.7,1461.6 L1028.4,1467.4 L1019.5,1473.3 L1010.1,1479.1 L1000.0,1485.0 L989.4,1490.8 L978.0,1496.7 L966.0,1502.5 L953.3,1508.4 L939.8,1514.2 L925.7,1520.1 L910.9,1525.9 L911.7,1520.2 L912.6,1514.6 L913.4,1508.9 L914.2,1503.3 L915.1,1497.6 L915.9,1492.0 L916.7,1486.3 L917.6,1480.7 L918.4,1475.0 L919.2,1469.4 L920.1,1463.7 L920.9,1458.1 L921.7,1452.4 L922.6,1446.8 L923.4,1441.1 L924.2,1435.5 L925.0,1429.8 L925.9,1424.2 L926.7,1418.5 L927.5,1412.9 L928.4,1407.2 L929.2,1401.5 L930.0,1395.9 L930.9,1390.2 L931.7,1384.6 L932.5,1378.9 L933.4,1373.3 L934.2,1367.6 L935.1,1362.0 L936.0,1356.3 L940.4,1329.5 L944.7,1302.6 L949.1,1275.8 L953.5,1248.9 L957.9,1222.1 L962.3,1195.2 L966.8,1168.4 L971.2,1141.5 L975.7,1114.7 L980.2,1087.8 L984.8,1061.0 L989.3,1034.1 L993.9,1007.3 L998.5,980.4 L1003.2,953.6 L1007.9,926.7 L1012.6,899.9 L1017.4,873.0 L1022.2,846.2 L1027.1,819.4 L1032.1,792.5 L1037.1,765.7 L1042.2,738.8 L1047.5,712.0 L1052.8,685.1 L1058.3,658.3 L1064.0,631.4 L1069.8,604.6 L1076.0,577.7 L1082.4,550.9 L1089.2,524.0 L1096.6,497.2 L1104.6,470.3 L1113.3,443.5 L1123.1,416.6 L1134.0,389.8 L1146.2,362.9 L1159.8,336.1 L1174.8,309.2 L1191.5,282.4 L1195.4,276.5 L1199.4,270.7 L1203.5,264.8 L1207.7,259.0 L1212.0,253.1 L1216.4,247.3 L1221.0,241.4 L1225.7,235.6 L1230.5,229.7 L1235.6,223.9 L1240.8,218.1 L1246.2,212.2 L1251.8,206.4 L1257.6,200.5 L1263.7,194.7 L1270.1,188.8 L1276.9,183.0 L1283.9,177.1 L1291.4,171.3 L1299.3,165.4 L1307.8,159.6 L1316.9,153.7 L1326.7,147.9 L1337.4,142.0 L1349.1,136.2 L1362.1,130.3 L1376.8,124.5 L1393.6,118.6 L1413.5,112.8 L1412.7,118.5 L1411.9,124.1 L1411.1,129.8 L1410.2,135.4 L1409.4,141.1 L1408.6,146.7 L1407.8,152.4 L1407.0,158.0 L1406.2,163.7 L1405.4,169.3 L1404.5,175.0 L1403.7,180.6 L1402.9,186.3 L1402.1,191.9 L1401.3,197.6 L1400.5,203.2 L1399.7,208.9 L1398.8,214.6 L1398.0,220.2 L1397.2,225.9 L1396.4,231.5 L1395.6,237.2 L1394.8,242.8 L1394.0,248.5 L1393.1,254.1 L1392.3,259.8 L1391.5,265.4 L1390.7,271.1 L1389.9,276.7 L1389.1,282.4 L1385.2,309.2 L1381.3,336.1 L1377.3,362.9 L1372.8,389.8 L1368.4,416.6 L1363.9,443.5 L1359.4,470.3 L1354.9,497.2 L1350.3,524.0 L1345.7,550.9 L1341.1,577.7 L1336.5,604.6 L1331.8,631.4 L1327.0,658.3 L1322.3,685.1 L1317.4,712.0 L1312.6,738.8 L1307.6,765.7 L1302.6,792.5 L1297.5,819.4 L1292.4,846.3 L1287.1,873.1 L1281.8,900.0 L1276.3,926.8 L1270.7,953.7 L1264.9,980.5 L1258.9,1007.4 L1252.7,1034.2 L1246.2,1061.1 L1239.4,1087.9 L1232.3,1114.8 L1224.7,1141.6 L1216.6,1168.5 L1207.9,1195.3 L1198.5,1222.2 L1188.1,1249.0 L1176.8,1275.9 L1164.2,1302.7 L1150.1,1329.6 L1134.1,1356.4 L1130.3,1362.3 L1126.4,1368.1 L1122.4,1374.0 L1118.2,1379.8 L1113.9,1385.7 L1109.5,1391.5 L1104.8,1397.4 L1100.0,1403.2 L1095.0,1409.0 L1089.7,1414.9 L1084.3,1420.7 L1078.5,1426.6 L1072.5,1432.4 L1066.2,1438.3 L1059.5,1444.1 L1052.5,1450.0 L1045.1,1455.8 L1037.2,1461.7 L1028.9,1467.5 L1020.0,1473.4 L1010.6,1479.2 L1000.5,1485.1 L989.9,1490.9 L978.5,1496.8 L966.4,1502.6 L953.6,1508.5 L940.1,1514.3 L925.9,1520.2 L911.0,1526.0 L911.8,1520.3 L912.7,1514.7 L913.5,1509.0 L914.3,1503.4 L915.2,1497.7 L916.0,1492.1 L916.8,1486.4 L917.7,1480.8 L918.5,1475.1 L919.3,1469.5 L920.2,1463.8 L921.0,1458.2 L921.8,1452.5 L922.7,1446.9 L923.5,1441.2 L924.3,1435.5 L925.2,1429.9 L926.0,1424.2 L926.8,1418.6 L927.7,1412.9 L928.5,1407.3 L929.3,1401.6 L930.2,1396.0 L931.0,1390.3 L931.8,1384.7 L932.6,1379.0 L933.5,1373.4 L934.3,1367.7 L935.2,1362.1 L936.1,1356.4 L940.5,1329.6 L944.8,1302.7 L949.2,1275.8 L953.6,1249.0 L958.0,1222.1 L962.5,1195.3 L966.9,1168.4 L971.4,1141.6 L975.9,1114.7 L980.4,1087.9 L984.9,1061.0 L989.5,1034.2 L994.0,1007.3 L998.7,980.5 L1003.3,953.6 L1008.0,926.8 L1012.7,899.9 L1017.5,873.1 L1022.4,846.2 L1027.3,819.4" stroke="#0000ff" stroke-width="5.4" fill="none" stroke-linejoin="miter" stroke-linecap="butt" stroke-miterlimit="3"/>
</g>
<g stroke="#262626" stroke-width="3" fill="none" stroke-linecap="butt" shape-rendering="crispEdges">
<rect x="287.5" y="30.5" width="1997.5" height="1576.0"/>
<line x1="687.0" y1="1606.5" x2="687.0" y2="1585.0"/>
<line x1="687.0" y1="30.5" x2="687.0" y2="52.0"/>
<line x1="1086.5" y1="1606.5" x2="1086.5" y2="1585.0"/>
<line x1="1086.5" y1="30.5" x2="1086.5" y2="52.0"/>
<line x1="1486.0" y1="1606.5" x2="1486.0" y2="1585.0"/>
<line x1="1486.0" y1="30.5" x2="1486.0" y2="52.0"/>
<line x1="1885.5" y1="1606.5" x2="1885.5" y2="1585.0"/>
<line x1="1885.5" y1="30.5" x2="1885.5" y2="52.0"/>
<line x1="287.5" y1="1534.5" x2="309.0" y2="1534.5"/>
<line x1="2285.0" y1="1534.5" x2="2263.5" y2="1534.5"/>
<line x1="287.5" y1="1248.1" x2="309.0" y2="1248.1"/>
<line x1="2285.0" y1="1248.1" x2="2263.5" y2="1248.1"/>
<line x1="287.5" y1="961.7" x2="309.0" y2="961.7"/>
<line x1="2285.0" y1="961.7" x2="2263.5" y2="961.7"/>
<line x1="287.5" y1="675.3" x2="309.0" y2="675.3"/>
<line x1="2285.0" y1="675.3" x2="2263.5" y2="675.3"/>
<line x1="287.5" y1="388.9" x2="309.0" y2="388.9"/>
<line x1="2285.0" y1="388.9" x2="2263.5" y2="388.9"/>
<line x1="287.5" y1="102.5" x2="309.0" y2="102.5"/>
<line x1="2285.0" y1="102.5" x2="2263.5" y2="102.5"/>
</g>
<g class="tick" text-anchor="end">
<text x="263" y="128.7">600</text>
<text x="263" y="415.1">400</text>
<text x="263" y="701.5">200</text>
<text x="263" y="987.9">0</text>
<text x="263" y="1274.3">–200</text>
<text x="263" y="1560.7">–400</text>
</g>
<g class="tick" text-anchor="middle">
<text x="287.5" y="1701.2">0</text>
<text x="685.0" y="1701.2">0.01</text>
<text x="1084.5" y="1701.2">0.02</text>
<text x="1484.0" y="1701.2">0.03</text>
<text x="1883.5" y="1701.2">0.04</text>
<text x="2283.0" y="1701.2">0.05</text>
</g>
<text class="lab" transform="translate(80 933) rotate(-90)"><tspan font-style="italic">σ</tspan> (MPa)</text>
<text class="lab" x="1224" y="1781.2"><tspan font-style="italic">ε</tspan><tspan font-size="60" dy="21.2">tot</tspan></text>
<text class="ann" x="1845" y="333.6">Calibration</text>
<text x="1829.2 1887.1 1944.6" y="119.7" style="font-size:120.0px;fill:#000">...</text>
<text x="1423.2 1473.5 1524.0" y="1526.2" style="font-size:116.0px;fill:#000">...</text>
<g>
<rect x="1710.7" y="1397.6" width="540.5" height="175.1" fill="#ffffff" stroke="#262626" stroke-width="3.4"/>
<line x1="1723.4" y1="1444.6" x2="1853" y2="1444.6" stroke="#ff0000" stroke-width="5.5"/>
<line x1="1723.4" y1="1526.4" x2="1853" y2="1526.4" stroke="#0000ff" stroke-width="5.5"/>
<text class="leg" x="1861.5" y="1467.4">Experimental</text>
<text class="leg" x="1860.5" y="1550.3">Simulated</text>
</g>
</svg>
</body>
</html>
